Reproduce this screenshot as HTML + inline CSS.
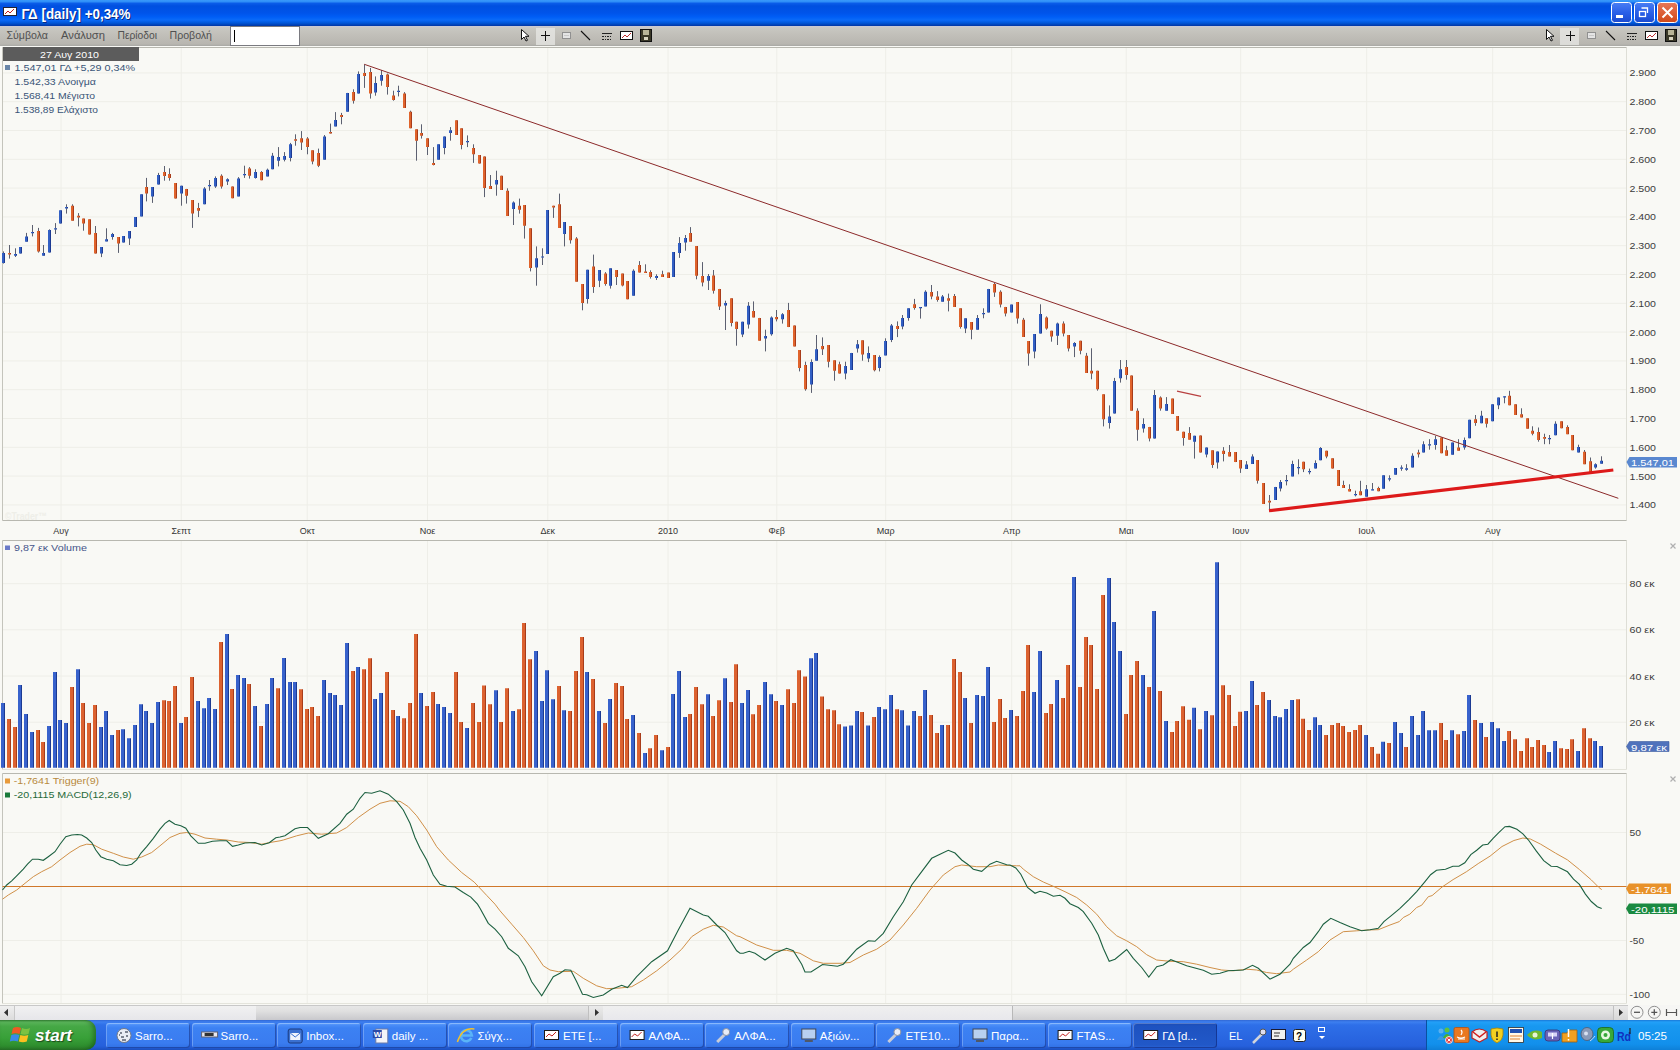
<!DOCTYPE html>
<html><head><meta charset="utf-8">
<style>
*{margin:0;padding:0;box-sizing:border-box}
html,body{width:1680px;height:1050px;overflow:hidden;background:#f9f9f5;font-family:"Liberation Sans",sans-serif}
.a{position:absolute}
svg{position:absolute;left:0;top:0}
#title{left:0;top:0;width:1680px;height:26px;background:linear-gradient(#3a9afa 0px,#3090f8 1.5px,#0a5ce8 3.5px,#0050e0 6px,#0054ea 13px,#005ef6 17px,#0a6af8 20px,#0056d8 23px,#0036a4 26px)}
#menu{left:0;top:26px;width:1680px;height:20px;background:linear-gradient(#cacad8 0px,#c8c8c2 2px,#c2c0ba 8px,#b8b6b0 18px,#a8a8a4 20px)}
.tb{left:0;top:1020px;width:1680px;height:30px;background:linear-gradient(#3168d5 0px,#3d7ff0 2px,#2e6fe8 5px,#2660dc 26px,#1c50c0 30px)}
.btn{position:absolute;top:3px;height:25px;width:84px;border-radius:3px;background:linear-gradient(#5a9cff 0px,#3c81f3 3px,#3478ee 20px,#2b68dc 25px);color:#fff;font-size:11px}
.btn span{position:absolute;left:24px;top:6px;white-space:nowrap}
.btn i{position:absolute;left:7px;top:6px;width:14px;height:12px}
</style></head><body>
<div id="title" class="a">
 <svg width="20" height="26" style="left:0;top:0"><rect x="3.5" y="7.5" width="13" height="8" fill="#fff" stroke="#223" stroke-width="1"/><polyline points="5,14 8,11 10,13 14,9" stroke="#c02020" stroke-width="1" fill="none"/></svg>
 <svg width="200" height="26" style="left:0;top:0"><text x="21.5" y="18.5" font-size="14" font-weight="bold" fill="#fff" textLength="109" lengthAdjust="spacingAndGlyphs" style="text-shadow:1px 1px #0a2a80">ΓΔ [daily] +0,34%</text></svg>
 <svg width="70" height="26" style="left:1610px;top:0">
  <defs><linearGradient id="wb" x1="0" y1="0" x2="0" y2="1"><stop offset="0" stop-color="#4a7ef4"/><stop offset="0.5" stop-color="#2a60e8"/><stop offset="1" stop-color="#1a4ad0"/></linearGradient>
  <linearGradient id="wc" x1="0" y1="0" x2="0" y2="1"><stop offset="0" stop-color="#e87858"/><stop offset="1" stop-color="#d04818"/></linearGradient></defs>
  <rect x="1.5" y="2.5" width="20" height="20" rx="3" fill="url(#wb)" stroke="#fff"/><rect x="6" y="15" width="7" height="3" fill="#fff"/>
  <rect x="24.5" y="2.5" width="20" height="20" rx="3" fill="url(#wb)" stroke="#fff"/><rect x="29.5" y="11.5" width="6" height="5" fill="none" stroke="#fff" stroke-width="1.3"/><path d="M31.5,8h6v5" fill="none" stroke="#fff" stroke-width="1.3"/>
  <rect x="47.5" y="2.5" width="20" height="20" rx="3" fill="url(#wc)" stroke="#fff"/><path d="M52.5,7.5l10,10M62.5,7.5l-10,10" stroke="#fff" stroke-width="2"/>
 </svg>
</div>
<div id="menu" class="a">
 <svg width="230" height="20" style="left:0;top:0" font-family="Liberation Sans">
  <text x="6.5" y="12.7" font-size="11" fill="#505050" textLength="41.5" lengthAdjust="spacingAndGlyphs">Σύμβολα</text>
  <text x="61" y="12.7" font-size="11" fill="#505050" textLength="44" lengthAdjust="spacingAndGlyphs">Ανάλυση</text>
  <text x="117.5" y="12.7" font-size="11" fill="#505050" textLength="39.5" lengthAdjust="spacingAndGlyphs">Περίοδοι</text>
  <text x="169.5" y="12.7" font-size="11" fill="#505050" textLength="42.5" lengthAdjust="spacingAndGlyphs">Προβολή</text>
 </svg>
 <div class="a" style="left:230px;top:0px;width:70px;height:20px;background:#fff;border:1px solid #7a7a80"><div class="a" style="left:3px;top:3px;width:1px;height:12px;background:#000"></div></div>
 <svg width="160" height="20" style="left:520px;top:0" shape-rendering="crispEdges">
 <rect x="16" y="2" width="19" height="17" fill="#e8e8e6" opacity="0.75"/>
 <path d="M1.5,3.5v10l2.5,-2.5l2,4l1.5,-0.7l-2,-4h3.5z" fill="#fff" stroke="#111" stroke-width="1" shape-rendering="auto"/>
 <path d="M25.5,4.5v10M21,9.5h9" stroke="#111" stroke-width="1.3"/>
 <rect x="42.5" y="6.5" width="8" height="6" fill="#e4e4e4" stroke="#909090"/><path d="M44,9.5h5" stroke="#c8c8c8"/>
 <path d="M61,5l9,9" stroke="#111" stroke-width="1.1" shape-rendering="auto"/>
 <path d="M82,7.5h10" stroke="#222" stroke-width="1"/><path d="M82,10.5h10M82,13.5h10" stroke="#222" stroke-width="1" stroke-dasharray="1.5,1"/>
 <rect x="100.5" y="5.5" width="12" height="8" fill="#fff" stroke="#111" stroke-width="1"/><polyline points="102,12 105,9 107,11 111,7" stroke="#c03030" fill="none" stroke-width="1" shape-rendering="auto"/>
 <rect x="120.5" y="3.5" width="11" height="12" fill="#3a3828" stroke="#111"/><rect x="123" y="4" width="6" height="5" fill="#b8b498"/><rect x="124" y="11" width="4" height="3" fill="#d8d4c0"/>
</svg>
 <svg width="160" height="20" style="left:1545px;top:0" shape-rendering="crispEdges">
 <rect x="15" y="2" width="19" height="17" fill="#e8e8e6" opacity="0.75"/>
 <path d="M1.5,3.5v10l2.5,-2.5l2,4l1.5,-0.7l-2,-4h3.5z" fill="#fff" stroke="#111" stroke-width="1" shape-rendering="auto"/>
 <path d="M25.5,4.5v10M21,9.5h9" stroke="#111" stroke-width="1.3"/>
 <rect x="42.5" y="6.5" width="8" height="6" fill="#e4e4e4" stroke="#909090"/><path d="M44,9.5h5" stroke="#c8c8c8"/>
 <path d="M61,5l9,9" stroke="#111" stroke-width="1.1" shape-rendering="auto"/>
 <path d="M82,7.5h10" stroke="#222" stroke-width="1"/><path d="M82,10.5h10M82,13.5h10" stroke="#222" stroke-width="1" stroke-dasharray="1.5,1"/>
 <rect x="100.5" y="5.5" width="12" height="8" fill="#fff" stroke="#111" stroke-width="1"/><polyline points="102,12 105,9 107,11 111,7" stroke="#c03030" fill="none" stroke-width="1" shape-rendering="auto"/>
 <rect x="120.5" y="3.5" width="11" height="12" fill="#3a3828" stroke="#111"/><rect x="123" y="4" width="6" height="5" fill="#b8b498"/><rect x="124" y="11" width="4" height="3" fill="#d8d4c0"/>
</svg>
</div>
<svg width="1680" height="1050" style="top:0;left:0;pointer-events:none">
<g transform="translate(0,0)">
<path d="M2.5,72.9H1626.5 M2.5,101.7H1626.5 M2.5,130.5H1626.5 M2.5,159.3H1626.5 M2.5,188.1H1626.5 M2.5,216.9H1626.5 M2.5,245.7H1626.5 M2.5,274.5H1626.5 M2.5,303.3H1626.5 M2.5,332.1H1626.5 M2.5,360.9H1626.5 M2.5,389.7H1626.5 M2.5,418.5H1626.5 M2.5,447.3H1626.5 M2.5,476.1H1626.5 M2.5,504.9H1626.5 M2.5,583.7H1626.5 M2.5,629.8H1626.5 M2.5,676.0H1626.5 M2.5,722.2H1626.5 M2.5,832.5H1626.5 M2.5,886.5H1626.5 M2.5,940.5H1626.5 M2.5,994.3H1626.5 M61.0,47.5V520.5 M61.0,540.5V769.5 M61.0,773.5V1003.5 M181.2,47.5V520.5 M181.2,540.5V769.5 M181.2,773.5V1003.5 M307.2,47.5V520.5 M307.2,540.5V769.5 M307.2,773.5V1003.5 M427.5,47.5V520.5 M427.5,540.5V769.5 M427.5,773.5V1003.5 M547.8,47.5V520.5 M547.8,540.5V769.5 M547.8,773.5V1003.5 M668.0,47.5V520.5 M668.0,540.5V769.5 M668.0,773.5V1003.5 M776.8,47.5V520.5 M776.8,540.5V769.5 M776.8,773.5V1003.5 M885.7,47.5V520.5 M885.7,540.5V769.5 M885.7,773.5V1003.5 M1011.7,47.5V520.5 M1011.7,540.5V769.5 M1011.7,773.5V1003.5 M1126.2,47.5V520.5 M1126.2,540.5V769.5 M1126.2,773.5V1003.5 M1240.7,47.5V520.5 M1240.7,540.5V769.5 M1240.7,773.5V1003.5 M1366.7,47.5V520.5 M1366.7,540.5V769.5 M1366.7,773.5V1003.5 M1492.7,47.5V520.5 M1492.7,540.5V769.5 M1492.7,773.5V1003.5" stroke="#eeeee8" stroke-width="1" fill="none"/>
<path d="M1626.5,47.5V520.5" stroke="#deded6" stroke-width="1" fill="none"/>
<path d="M2.5,520.5V47.5" stroke="#c4c4bc" stroke-width="1" fill="none"/>
<path d="M2.5,47.5H1626.5" stroke="#b8b8b0" stroke-width="1" fill="none"/>
<path d="M2.5,520.5H1626.5" stroke="#b8b8b0" stroke-width="1" fill="none"/>
<path d="M1626.5,540.5V769.5" stroke="#deded6" stroke-width="1" fill="none"/>
<path d="M2.5,769.5V540.5" stroke="#c4c4bc" stroke-width="1" fill="none"/>
<path d="M2.5,540.5H1626.5" stroke="#b8b8b0" stroke-width="1" fill="none"/>
<path d="M2.5,769.5H1626.5" stroke="#e4e4dc" stroke-width="1" fill="none"/>
<path d="M1626.5,773.5V1003.5" stroke="#deded6" stroke-width="1" fill="none"/>
<path d="M2.5,1003.5V773.5" stroke="#c4c4bc" stroke-width="1" fill="none"/>
<path d="M2.5,773.5H1626.5" stroke="#b8b8b0" stroke-width="1" fill="none"/>
<path d="M2.5,1003.5H1626.5" stroke="#e4e4dc" stroke-width="1" fill="none"/>
<path d="M3.5,251.4V263.6 M9.5,245.0V258.6 M15.5,248.3V257.0 M20.5,247.0V253.6 M26.5,232.9V241.7 M32.5,225.0V236.4 M38.5,227.9V252.6 M43.5,245.0V255.7 M49.5,229.3V252.6 M55.5,223.1V234.0 M60.5,210.3V223.6 M66.5,204.3V213.6 M72.5,204.3V220.7 M78.5,213.1V226.4 M83.5,218.6V230.7 M89.5,219.3V234.6 M95.5,226.0V253.6 M101.5,247.1V257.1 M106.5,228.3V241.4 M112.5,232.9V239.7 M118.5,237.1V252.9 M123.5,236.0V242.6 M129.5,231.1V245.0 M135.5,217.1V226.9 M141.5,194.3V216.4 M146.5,177.9V201.4 M152.5,187.1V202.9 M158.5,172.9V184.6 M164.5,166.0V180.7 M169.5,168.3V180.7 M175.5,183.1V198.6 M181.5,185.7V205.7 M186.5,188.9V203.6 M192.5,200.0V227.9 M198.5,202.9V217.1 M204.5,187.1V204.3 M209.5,180.0V190.7 M215.5,176.4V187.9 M221.5,174.3V188.6 M227.5,178.3V185.0 M232.5,186.4V198.3 M238.5,177.1V196.4 M244.5,165.7V177.9 M249.5,167.1V178.6 M255.5,169.3V178.6 M261.5,171.1V180.3 M267.5,168.6V176.4 M272.5,152.9V169.3 M278.5,147.1V166.4 M284.5,152.1V161.4 M290.5,142.9V161.4 M295.5,134.3V145.7 M301.5,131.1V150.0 M307.5,137.1V154.3 M312.5,150.3V164.3 M318.5,148.6V167.1 M324.5,135.0V159.7 M330.5,123.6V133.6 M335.5,112.1V126.4 M341.5,112.9V124.3 M347.5,92.9V111.7 M353.5,89.3V103.6 M358.5,71.4V93.6 M364.5,64.3V87.9 M370.5,67.9V98.6 M375.5,76.4V95.7 M381.5,70.0V85.7 M387.5,73.6V94.6 M393.5,90.7V100.7 M398.5,85.7V96.4 M404.5,92.1V107.9 M410.5,110.7V128.3 M416.5,129.3V160.7 M421.5,124.3V138.6 M427.5,138.3V155.0 M433.5,147.1V165.4 M438.5,144.3V159.7 M444.5,136.4V154.3 M450.5,127.1V140.7 M456.5,120.3V135.0 M461.5,128.3V149.3 M467.5,135.4V147.1 M473.5,144.3V162.9 M479.5,155.0V163.6 M484.5,156.4V197.1 M490.5,175.0V188.9 M496.5,170.7V195.7 M501.5,175.7V190.0 M507.5,188.3V216.0 M513.5,201.4V225.0 M519.5,198.6V213.6 M524.5,205.0V238.6 M530.5,228.3V271.4 M536.5,246.4V285.7 M542.5,248.3V265.0 M547.5,210.0V254.0 M553.5,205.7V217.9 M559.5,193.6V227.9 M564.5,222.1V246.4 M570.5,226.0V243.6 M576.5,237.1V281.7 M582.5,284.0V310.3 M587.5,269.7V303.6 M593.5,254.6V292.9 M599.5,270.0V287.1 M605.5,272.1V285.7 M610.5,268.3V288.6 M616.5,270.0V285.0 M622.5,273.6V286.4 M627.5,281.1V299.3 M633.5,269.3V295.7 M639.5,261.1V272.6 M645.5,264.3V272.9 M650.5,270.3V278.6 M656.5,274.3V280.0 M662.5,270.7V276.9 M668.5,272.6V277.9 M673.5,252.1V276.9 M679.5,237.1V257.9 M685.5,235.0V250.7 M690.5,227.1V241.7 M696.5,246.0V279.3 M702.5,262.1V286.4 M708.5,274.0V290.0 M713.5,270.0V293.6 M719.5,288.9V310.0 M725.5,300.7V330.0 M731.5,298.3V326.4 M736.5,321.7V345.7 M742.5,321.7V337.1 M748.5,302.1V328.6 M753.5,301.4V317.4 M759.5,317.9V340.7 M765.5,329.7V351.4 M771.5,316.4V335.7 M776.5,310.0V321.4 M782.5,313.1V323.6 M788.5,302.9V327.1 M794.5,325.4V346.4 M799.5,350.0V371.4 M805.5,361.7V390.7 M811.5,359.3V392.9 M816.5,335.0V360.7 M822.5,337.4V355.0 M828.5,345.0V367.4 M834.5,360.3V380.7 M839.5,361.7V373.6 M845.5,361.7V379.3 M851.5,352.9V370.0 M857.5,340.0V352.6 M862.5,340.3V360.7 M868.5,346.4V362.1 M874.5,355.0V371.4 M879.5,355.4V371.4 M885.5,338.3V355.4 M891.5,324.0V342.1 M897.5,321.4V337.1 M902.5,315.0V329.3 M908.5,308.3V320.7 M914.5,298.9V309.7 M920.5,307.1V318.6 M925.5,290.3V306.4 M931.5,285.0V299.3 M937.5,291.1V301.7 M942.5,295.0V301.7 M948.5,293.6V311.4 M954.5,294.0V306.9 M960.5,308.3V328.6 M965.5,318.3V333.1 M971.5,322.1V339.3 M977.5,315.0V329.7 M983.5,308.3V318.3 M988.5,288.9V312.6 M994.5,282.9V296.9 M1000.5,290.3V307.4 M1005.5,306.9V316.4 M1011.5,304.6V312.6 M1017.5,302.1V323.6 M1023.5,317.9V336.9 M1028.5,341.1V365.7 M1034.5,334.0V358.3 M1040.5,304.3V333.6 M1046.5,316.4V329.7 M1051.5,330.7V341.7 M1057.5,322.6V345.0 M1063.5,321.4V336.4 M1068.5,335.0V351.4 M1074.5,342.1V357.1 M1080.5,340.7V354.3 M1086.5,352.9V372.9 M1091.5,348.3V379.3 M1097.5,370.7V390.7 M1103.5,394.3V426.4 M1109.5,405.4V428.6 M1114.5,377.9V413.6 M1120.5,360.0V382.6 M1126.5,360.0V379.7 M1131.5,375.4V410.7 M1137.5,408.3V440.7 M1143.5,418.3V432.6 M1149.5,426.9V441.4 M1154.5,390.0V438.6 M1160.5,396.4V410.7 M1166.5,397.1V410.7 M1172.5,398.6V414.0 M1177.5,416.0V430.7 M1183.5,431.7V445.7 M1189.5,427.1V439.7 M1194.5,435.7V458.6 M1200.5,435.4V452.6 M1206.5,447.4V457.4 M1212.5,450.3V467.9 M1217.5,451.4V468.6 M1223.5,447.1V461.4 M1229.5,445.0V456.4 M1235.5,452.1V462.1 M1240.5,460.0V472.9 M1246.5,461.1V468.9 M1252.5,454.3V464.0 M1257.5,460.0V483.6 M1263.5,483.1V504.0 M1269.5,495.0V510.7 M1275.5,486.9V500.0 M1280.5,480.0V491.4 M1286.5,475.0V485.4 M1292.5,460.7V476.4 M1298.5,459.3V474.3 M1303.5,461.7V472.1 M1309.5,468.6V474.3 M1315.5,460.3V468.6 M1320.5,447.1V460.3 M1326.5,450.7V458.3 M1332.5,458.3V468.6 M1338.5,470.0V486.0 M1343.5,480.7V487.9 M1349.5,484.3V491.4 M1355.5,490.7V496.4 M1360.5,480.8V495.3 M1366.5,485.0V496.7 M1372.5,483.0V490.3 M1378.5,486.7V491.3 M1383.5,475.3V488.7 M1389.5,475.3V481.3 M1395.5,468.0V474.7 M1401.5,465.3V470.8 M1406.5,464.2V470.8 M1412.5,453.3V467.5 M1418.5,449.7V457.5 M1423.5,441.3V452.5 M1429.5,439.2V449.7 M1435.5,435.8V449.7 M1441.5,437.5V453.3 M1446.5,445.8V455.8 M1452.5,442.5V454.7 M1458.5,439.2V450.8 M1464.5,437.5V449.7 M1469.5,419.7V438.3 M1475.5,415.0V425.8 M1481.5,410.8V423.3 M1486.5,418.3V427.5 M1492.5,404.2V421.3 M1498.5,397.5V409.2 M1504.5,396.3V403.3 M1509.5,390.8V405.3 M1515.5,404.2V415.0 M1521.5,408.3V417.5 M1527.5,418.3V428.7 M1532.5,426.3V435.3 M1538.5,427.5V441.7 M1544.5,433.7V444.2 M1549.5,435.0V444.2 M1555.5,421.3V435.3 M1561.5,421.3V428.3 M1567.5,425.3V434.2 M1572.5,435.0V450.3 M1578.5,444.7V452.5 M1584.5,450.0V464.2 M1590.5,457.5V472.5 M1595.5,463.3V468.7 M1601.5,456.3V463.7" stroke="#5c6070" stroke-width="1" fill="none"/>
<path d="M2,252.9h2v10.0h-2z M14,254.0h2v1.7h-2z M19,247.0h2v6.6h-2z M25,236.4h2v5.3h-2z M31,232.1h2v1.2h-2z M42,252.9h2v2.8h-2z M48,230.0h2v22.6h-2z M54,228.3h2v1.2h-2z M59,210.3h2v13.3h-2z M65,206.9h2v1.7h-2z M100,247.1h2v6.5h-2z M105,239.3h2v2.1h-2z M111,234.0h2v2.9h-2z M122,236.0h2v6.6h-2z M128,231.1h2v7.5h-2z M134,217.1h2v9.8h-2z M140,194.3h2v22.1h-2z M151,187.1h2v9.3h-2z M157,175.0h2v9.6h-2z M180,185.7h2v7.9h-2z M203,188.6h2v15.7h-2z M208,185.0h2v1.2h-2z M214,177.9h2v8.5h-2z M226,179.3h2v2.1h-2z M237,178.6h2v17.8h-2z M243,174.0h2v1.2h-2z M254,172.1h2v5.8h-2z M266,169.7h2v6.7h-2z M271,155.7h2v13.6h-2z M277,156.9h2v3.8h-2z M283,156.0h2v3.7h-2z M289,144.3h2v13.6h-2z M323,136.4h2v23.3h-2z M334,120.0h2v6.4h-2z M346,92.9h2v18.8h-2z M357,74.0h2v19.6h-2z M374,83.1h2v9.5h-2z M380,75.0h2v5.7h-2z M397,90.7h2v1.2h-2z M437,144.3h2v15.4h-2z M443,136.4h2v11.5h-2z M449,130.3h2v2.6h-2z M466,141.1h2v1.2h-2z M495,180.0h2v4.6h-2z M512,202.6h2v6.3h-2z M535,258.3h2v9.1h-2z M541,256.4h2v1.2h-2z M546,210.0h2v44.0h-2z M563,222.1h2v11.9h-2z M586,269.7h2v29.2h-2z M598,270.0h2v10.7h-2z M609,268.3h2v17.4h-2z M632,270.7h2v25.0h-2z M655,276.0h2v1.9h-2z M672,252.1h2v24.8h-2z M678,242.9h2v10.0h-2z M684,237.9h2v4.7h-2z M707,276.0h2v4.7h-2z M724,302.9h2v2.5h-2z M741,321.7h2v12.9h-2z M747,305.7h2v18.9h-2z M764,336.0h2v2.6h-2z M770,317.4h2v16.9h-2z M781,314.3h2v5.0h-2z M810,362.1h2v22.5h-2z M815,349.3h2v11.4h-2z M844,366.0h2v7.6h-2z M850,352.9h2v17.1h-2z M856,344.3h2v4.3h-2z M867,353.1h2v5.5h-2z M878,356.9h2v11.0h-2z M884,341.1h2v14.3h-2z M890,325.4h2v14.6h-2z M901,317.9h2v8.5h-2z M907,308.3h2v9.6h-2z M919,307.1h2v1.2h-2z M924,291.7h2v14.7h-2z M941,296.4h2v5.3h-2z M964,318.3h2v10.3h-2z M976,317.9h2v11.8h-2z M982,313.1h2v1.2h-2z M987,288.9h2v23.7h-2z M1010,304.6h2v8.0h-2z M1033,334.0h2v17.4h-2z M1039,314.0h2v19.6h-2z M1056,323.6h2v12.1h-2z M1073,342.9h2v3.5h-2z M1108,416.4h2v6.5h-2z M1113,381.1h2v32.5h-2z M1119,369.3h2v9.0h-2z M1142,424.0h2v4.6h-2z M1153,395.0h2v43.6h-2z M1165,404.0h2v6.7h-2z M1193,435.7h2v6.0h-2z M1205,447.4h2v7.2h-2z M1216,451.4h2v11.2h-2z M1245,464.6h2v4.3h-2z M1251,456.4h2v7.6h-2z M1274,486.9h2v13.1h-2z M1279,482.1h2v6.5h-2z M1285,480.0h2v1.2h-2z M1291,464.0h2v12.4h-2z M1297,467.1h2v1.2h-2z M1308,471.1h2v1.2h-2z M1314,463.1h2v5.5h-2z M1319,447.9h2v12.4h-2z M1354,494.0h2v1.2h-2z M1365,489.2h2v7.5h-2z M1371,489.2h2v1.2h-2z M1382,475.3h2v13.4h-2z M1388,478.3h2v1.2h-2z M1394,468.0h2v6.7h-2z M1400,467.5h2v1.2h-2z M1405,468.3h2v1.4h-2z M1411,455.8h2v11.7h-2z M1422,444.2h2v8.3h-2z M1428,444.2h2v1.2h-2z M1434,439.2h2v5.8h-2z M1451,442.5h2v12.2h-2z M1463,440.0h2v7.5h-2z M1468,419.7h2v18.6h-2z M1480,415.8h2v7.5h-2z M1491,404.2h2v17.1h-2z M1497,397.5h2v7.8h-2z M1503,396.3h2v1.2h-2z M1548,438.0h2v1.2h-2z M1554,423.7h2v11.6h-2z M1577,447.0h2v5.5h-2z M1594,464.2h2v3.3h-2z M1600,460.8h2v2.9h-2z" fill="#3360c4"/>
<path d="M4,252.9h1v10.0h-1z M16,254.0h1v1.7h-1z M21,247.0h1v6.6h-1z M27,236.4h1v5.3h-1z M33,232.1h1v1.2h-1z M44,252.9h1v2.8h-1z M50,230.0h1v22.6h-1z M56,228.3h1v1.2h-1z M61,210.3h1v13.3h-1z M67,206.9h1v1.7h-1z M102,247.1h1v6.5h-1z M107,239.3h1v2.1h-1z M113,234.0h1v2.9h-1z M124,236.0h1v6.6h-1z M130,231.1h1v7.5h-1z M136,217.1h1v9.8h-1z M142,194.3h1v22.1h-1z M153,187.1h1v9.3h-1z M159,175.0h1v9.6h-1z M182,185.7h1v7.9h-1z M205,188.6h1v15.7h-1z M210,185.0h1v1.2h-1z M216,177.9h1v8.5h-1z M228,179.3h1v2.1h-1z M239,178.6h1v17.8h-1z M245,174.0h1v1.2h-1z M256,172.1h1v5.8h-1z M268,169.7h1v6.7h-1z M273,155.7h1v13.6h-1z M279,156.9h1v3.8h-1z M285,156.0h1v3.7h-1z M291,144.3h1v13.6h-1z M325,136.4h1v23.3h-1z M336,120.0h1v6.4h-1z M348,92.9h1v18.8h-1z M359,74.0h1v19.6h-1z M376,83.1h1v9.5h-1z M382,75.0h1v5.7h-1z M399,90.7h1v1.2h-1z M439,144.3h1v15.4h-1z M445,136.4h1v11.5h-1z M451,130.3h1v2.6h-1z M468,141.1h1v1.2h-1z M497,180.0h1v4.6h-1z M514,202.6h1v6.3h-1z M537,258.3h1v9.1h-1z M543,256.4h1v1.2h-1z M548,210.0h1v44.0h-1z M565,222.1h1v11.9h-1z M588,269.7h1v29.2h-1z M600,270.0h1v10.7h-1z M611,268.3h1v17.4h-1z M634,270.7h1v25.0h-1z M657,276.0h1v1.9h-1z M674,252.1h1v24.8h-1z M680,242.9h1v10.0h-1z M686,237.9h1v4.7h-1z M709,276.0h1v4.7h-1z M726,302.9h1v2.5h-1z M743,321.7h1v12.9h-1z M749,305.7h1v18.9h-1z M766,336.0h1v2.6h-1z M772,317.4h1v16.9h-1z M783,314.3h1v5.0h-1z M812,362.1h1v22.5h-1z M817,349.3h1v11.4h-1z M846,366.0h1v7.6h-1z M852,352.9h1v17.1h-1z M858,344.3h1v4.3h-1z M869,353.1h1v5.5h-1z M880,356.9h1v11.0h-1z M886,341.1h1v14.3h-1z M892,325.4h1v14.6h-1z M903,317.9h1v8.5h-1z M909,308.3h1v9.6h-1z M921,307.1h1v1.2h-1z M926,291.7h1v14.7h-1z M943,296.4h1v5.3h-1z M966,318.3h1v10.3h-1z M978,317.9h1v11.8h-1z M984,313.1h1v1.2h-1z M989,288.9h1v23.7h-1z M1012,304.6h1v8.0h-1z M1035,334.0h1v17.4h-1z M1041,314.0h1v19.6h-1z M1058,323.6h1v12.1h-1z M1075,342.9h1v3.5h-1z M1110,416.4h1v6.5h-1z M1115,381.1h1v32.5h-1z M1121,369.3h1v9.0h-1z M1144,424.0h1v4.6h-1z M1155,395.0h1v43.6h-1z M1167,404.0h1v6.7h-1z M1195,435.7h1v6.0h-1z M1207,447.4h1v7.2h-1z M1218,451.4h1v11.2h-1z M1247,464.6h1v4.3h-1z M1253,456.4h1v7.6h-1z M1276,486.9h1v13.1h-1z M1281,482.1h1v6.5h-1z M1287,480.0h1v1.2h-1z M1293,464.0h1v12.4h-1z M1299,467.1h1v1.2h-1z M1310,471.1h1v1.2h-1z M1316,463.1h1v5.5h-1z M1321,447.9h1v12.4h-1z M1356,494.0h1v1.2h-1z M1367,489.2h1v7.5h-1z M1373,489.2h1v1.2h-1z M1384,475.3h1v13.4h-1z M1390,478.3h1v1.2h-1z M1396,468.0h1v6.7h-1z M1402,467.5h1v1.2h-1z M1407,468.3h1v1.4h-1z M1413,455.8h1v11.7h-1z M1424,444.2h1v8.3h-1z M1430,444.2h1v1.2h-1z M1436,439.2h1v5.8h-1z M1453,442.5h1v12.2h-1z M1465,440.0h1v7.5h-1z M1470,419.7h1v18.6h-1z M1482,415.8h1v7.5h-1z M1493,404.2h1v17.1h-1z M1499,397.5h1v7.8h-1z M1505,396.3h1v1.2h-1z M1550,438.0h1v1.2h-1z M1556,423.7h1v11.6h-1z M1579,447.0h1v5.5h-1z M1596,464.2h1v3.3h-1z M1602,460.8h1v2.9h-1z" fill="#1c3a92"/>
<path d="M8,252.9h2v1.7h-2z M37,231.1h2v20.3h-2z M71,205.7h2v15.0h-2z M77,215.7h2v1.7h-2z M82,218.6h2v5.0h-2z M88,219.3h2v15.3h-2z M94,232.9h2v20.7h-2z M117,237.1h2v6.5h-2z M145,187.1h2v6.5h-2z M163,172.1h2v3.9h-2z M168,174.0h2v3.9h-2z M174,183.1h2v15.5h-2z M185,188.9h2v6.8h-2z M191,200.0h2v13.6h-2z M197,207.9h2v2.8h-2z M220,175.7h2v10.7h-2z M231,186.4h2v11.9h-2z M248,168.6h2v7.1h-2z M260,172.1h2v8.2h-2z M294,139.3h2v1.4h-2z M300,138.3h2v4.3h-2z M306,138.6h2v8.5h-2z M311,150.3h2v11.1h-2z M317,152.9h2v12.8h-2z M329,132.1h2v1.5h-2z M340,115.0h2v1.9h-2z M352,92.1h2v8.6h-2z M363,73.1h2v2.9h-2z M369,72.1h2v21.5h-2z M386,74.6h2v12.3h-2z M392,95.4h2v4.6h-2z M403,93.6h2v14.3h-2z M409,111.7h2v16.6h-2z M415,129.3h2v11.4h-2z M420,132.9h2v2.8h-2z M426,138.3h2v8.8h-2z M432,162.9h2v2.1h-2z M455,120.3h2v14.7h-2z M460,128.3h2v16.7h-2z M472,147.9h2v6.4h-2z M478,155.0h2v8.6h-2z M483,156.4h2v31.5h-2z M489,186.0h2v2.9h-2z M500,175.7h2v14.3h-2z M506,190.7h2v25.3h-2z M518,205.7h2v4.0h-2z M523,205.0h2v20.7h-2z M529,228.3h2v39.6h-2z M552,205.7h2v1.7h-2z M558,204.3h2v23.6h-2z M569,226.0h2v14.3h-2z M575,238.6h2v43.1h-2z M581,284.0h2v18.9h-2z M592,266.4h2v20.5h-2z M604,273.6h2v10.4h-2z M615,270.0h2v6.9h-2z M621,273.6h2v11.8h-2z M626,281.1h2v18.2h-2z M638,265.0h2v7.6h-2z M644,271.4h2v1.5h-2z M649,272.1h2v5.0h-2z M661,274.3h2v2.6h-2z M667,272.6h2v5.3h-2z M689,233.1h2v8.6h-2z M695,246.0h2v29.7h-2z M701,276.0h2v6.6h-2z M712,275.4h2v15.3h-2z M718,288.9h2v17.5h-2z M730,298.3h2v24.8h-2z M735,321.7h2v7.2h-2z M752,311.1h2v6.3h-2z M758,317.9h2v22.8h-2z M775,317.1h2v2.2h-2z M787,310.0h2v17.1h-2z M793,325.4h2v21.0h-2z M798,350.0h2v17.9h-2z M804,365.0h2v24.3h-2z M821,346.0h2v3.3h-2z M827,345.0h2v16.7h-2z M833,360.3h2v10.4h-2z M838,364.3h2v9.3h-2z M861,340.3h2v14.3h-2z M873,355.0h2v15.3h-2z M896,326.0h2v2.9h-2z M913,304.3h2v3.6h-2z M930,292.1h2v4.3h-2z M936,296.4h2v3.6h-2z M947,298.3h2v2.4h-2z M953,296.0h2v10.9h-2z M959,308.3h2v18.6h-2z M970,322.1h2v7.6h-2z M993,284.0h2v8.6h-2z M999,291.7h2v12.9h-2z M1004,306.9h2v6.7h-2z M1016,302.1h2v16.5h-2z M1022,319.7h2v17.2h-2z M1027,341.1h2v12.5h-2z M1045,317.4h2v11.2h-2z M1050,330.7h2v5.7h-2z M1062,323.6h2v10.0h-2z M1067,335.0h2v13.6h-2z M1079,340.7h2v10.0h-2z M1085,355.7h2v17.2h-2z M1090,370.7h2v2.9h-2z M1096,370.7h2v18.6h-2z M1102,394.3h2v25.0h-2z M1125,366.9h2v8.1h-2z M1130,375.4h2v35.3h-2z M1136,410.7h2v19.0h-2z M1148,426.9h2v11.7h-2z M1159,397.4h2v11.2h-2z M1171,398.6h2v15.4h-2z M1176,416.0h2v14.7h-2z M1182,431.7h2v6.2h-2z M1188,432.9h2v6.8h-2z M1199,435.4h2v17.2h-2z M1211,450.3h2v14.7h-2z M1222,450.7h2v3.3h-2z M1228,452.1h2v4.3h-2z M1234,452.1h2v10.0h-2z M1239,460.0h2v8.6h-2z M1256,460.0h2v20.7h-2z M1262,483.1h2v20.9h-2z M1268,500.7h2v1.9h-2z M1302,461.7h2v7.6h-2z M1325,450.7h2v5.7h-2z M1331,458.3h2v10.3h-2z M1337,470.0h2v16.0h-2z M1342,485.0h2v2.9h-2z M1348,488.9h2v2.5h-2z M1359,491.3h2v4.0h-2z M1377,488.0h2v3.3h-2z M1417,452.5h2v1.7h-2z M1440,437.5h2v15.8h-2z M1445,450.3h2v5.5h-2z M1457,447.5h2v3.3h-2z M1474,419.2h2v3.8h-2z M1485,418.3h2v5.4h-2z M1508,395.8h2v9.5h-2z M1514,404.2h2v10.8h-2z M1520,414.2h2v3.3h-2z M1526,418.3h2v10.4h-2z M1531,430.8h2v2.9h-2z M1537,432.0h2v8.0h-2z M1543,437.0h2v1.7h-2z M1560,421.3h2v7.0h-2z M1566,427.0h2v7.2h-2z M1571,435.0h2v15.3h-2z M1583,451.7h2v12.5h-2z M1589,461.3h2v11.2h-2z" fill="#e0642c"/>
<path d="M10,252.9h1v1.7h-1z M39,231.1h1v20.3h-1z M73,205.7h1v15.0h-1z M79,215.7h1v1.7h-1z M84,218.6h1v5.0h-1z M90,219.3h1v15.3h-1z M96,232.9h1v20.7h-1z M119,237.1h1v6.5h-1z M147,187.1h1v6.5h-1z M165,172.1h1v3.9h-1z M170,174.0h1v3.9h-1z M176,183.1h1v15.5h-1z M187,188.9h1v6.8h-1z M193,200.0h1v13.6h-1z M199,207.9h1v2.8h-1z M222,175.7h1v10.7h-1z M233,186.4h1v11.9h-1z M250,168.6h1v7.1h-1z M262,172.1h1v8.2h-1z M296,139.3h1v1.4h-1z M302,138.3h1v4.3h-1z M308,138.6h1v8.5h-1z M313,150.3h1v11.1h-1z M319,152.9h1v12.8h-1z M331,132.1h1v1.5h-1z M342,115.0h1v1.9h-1z M354,92.1h1v8.6h-1z M365,73.1h1v2.9h-1z M371,72.1h1v21.5h-1z M388,74.6h1v12.3h-1z M394,95.4h1v4.6h-1z M405,93.6h1v14.3h-1z M411,111.7h1v16.6h-1z M417,129.3h1v11.4h-1z M422,132.9h1v2.8h-1z M428,138.3h1v8.8h-1z M434,162.9h1v2.1h-1z M457,120.3h1v14.7h-1z M462,128.3h1v16.7h-1z M474,147.9h1v6.4h-1z M480,155.0h1v8.6h-1z M485,156.4h1v31.5h-1z M491,186.0h1v2.9h-1z M502,175.7h1v14.3h-1z M508,190.7h1v25.3h-1z M520,205.7h1v4.0h-1z M525,205.0h1v20.7h-1z M531,228.3h1v39.6h-1z M554,205.7h1v1.7h-1z M560,204.3h1v23.6h-1z M571,226.0h1v14.3h-1z M577,238.6h1v43.1h-1z M583,284.0h1v18.9h-1z M594,266.4h1v20.5h-1z M606,273.6h1v10.4h-1z M617,270.0h1v6.9h-1z M623,273.6h1v11.8h-1z M628,281.1h1v18.2h-1z M640,265.0h1v7.6h-1z M646,271.4h1v1.5h-1z M651,272.1h1v5.0h-1z M663,274.3h1v2.6h-1z M669,272.6h1v5.3h-1z M691,233.1h1v8.6h-1z M697,246.0h1v29.7h-1z M703,276.0h1v6.6h-1z M714,275.4h1v15.3h-1z M720,288.9h1v17.5h-1z M732,298.3h1v24.8h-1z M737,321.7h1v7.2h-1z M754,311.1h1v6.3h-1z M760,317.9h1v22.8h-1z M777,317.1h1v2.2h-1z M789,310.0h1v17.1h-1z M795,325.4h1v21.0h-1z M800,350.0h1v17.9h-1z M806,365.0h1v24.3h-1z M823,346.0h1v3.3h-1z M829,345.0h1v16.7h-1z M835,360.3h1v10.4h-1z M840,364.3h1v9.3h-1z M863,340.3h1v14.3h-1z M875,355.0h1v15.3h-1z M898,326.0h1v2.9h-1z M915,304.3h1v3.6h-1z M932,292.1h1v4.3h-1z M938,296.4h1v3.6h-1z M949,298.3h1v2.4h-1z M955,296.0h1v10.9h-1z M961,308.3h1v18.6h-1z M972,322.1h1v7.6h-1z M995,284.0h1v8.6h-1z M1001,291.7h1v12.9h-1z M1006,306.9h1v6.7h-1z M1018,302.1h1v16.5h-1z M1024,319.7h1v17.2h-1z M1029,341.1h1v12.5h-1z M1047,317.4h1v11.2h-1z M1052,330.7h1v5.7h-1z M1064,323.6h1v10.0h-1z M1069,335.0h1v13.6h-1z M1081,340.7h1v10.0h-1z M1087,355.7h1v17.2h-1z M1092,370.7h1v2.9h-1z M1098,370.7h1v18.6h-1z M1104,394.3h1v25.0h-1z M1127,366.9h1v8.1h-1z M1132,375.4h1v35.3h-1z M1138,410.7h1v19.0h-1z M1150,426.9h1v11.7h-1z M1161,397.4h1v11.2h-1z M1173,398.6h1v15.4h-1z M1178,416.0h1v14.7h-1z M1184,431.7h1v6.2h-1z M1190,432.9h1v6.8h-1z M1201,435.4h1v17.2h-1z M1213,450.3h1v14.7h-1z M1224,450.7h1v3.3h-1z M1230,452.1h1v4.3h-1z M1236,452.1h1v10.0h-1z M1241,460.0h1v8.6h-1z M1258,460.0h1v20.7h-1z M1264,483.1h1v20.9h-1z M1270,500.7h1v1.9h-1z M1304,461.7h1v7.6h-1z M1327,450.7h1v5.7h-1z M1333,458.3h1v10.3h-1z M1339,470.0h1v16.0h-1z M1344,485.0h1v2.9h-1z M1350,488.9h1v2.5h-1z M1361,491.3h1v4.0h-1z M1379,488.0h1v3.3h-1z M1419,452.5h1v1.7h-1z M1442,437.5h1v15.8h-1z M1447,450.3h1v5.5h-1z M1459,447.5h1v3.3h-1z M1476,419.2h1v3.8h-1z M1487,418.3h1v5.4h-1z M1510,395.8h1v9.5h-1z M1516,404.2h1v10.8h-1z M1522,414.2h1v3.3h-1z M1528,418.3h1v10.4h-1z M1533,430.8h1v2.9h-1z M1539,432.0h1v8.0h-1z M1545,437.0h1v1.7h-1z M1562,421.3h1v7.0h-1z M1568,427.0h1v7.2h-1z M1573,435.0h1v15.3h-1z M1585,451.7h1v12.5h-1z M1591,461.3h1v11.2h-1z" fill="#a83c1a"/>
<path d="M1,703.1h3V767.8h-3z M18,685.0h3V767.8h-3z M24,714.0h3V767.8h-3z M30,732.1h3V767.8h-3z M47,726.0h3V767.8h-3z M53,672.1h3V767.8h-3z M58,720.0h3V767.8h-3z M64,722.9h3V767.8h-3z M76,669.3h3V767.8h-3z M99,726.9h3V767.8h-3z M104,711.1h3V767.8h-3z M110,735.0h3V767.8h-3z M121,729.3h3V767.8h-3z M127,738.3h3V767.8h-3z M133,725.0h3V767.8h-3z M139,704.3h3V767.8h-3z M144,711.1h3V767.8h-3z M150,722.9h3V767.8h-3z M156,702.1h3V767.8h-3z M179,722.9h3V767.8h-3z M196,701.1h3V767.8h-3z M202,708.3h3V767.8h-3z M207,697.9h3V767.8h-3z M213,708.9h3V767.8h-3z M225,634.0h3V767.8h-3z M236,675.0h3V767.8h-3z M242,677.9h3V767.8h-3z M253,706.0h3V767.8h-3z M265,704.0h3V767.8h-3z M270,677.9h3V767.8h-3z M282,657.9h3V767.8h-3z M288,682.1h3V767.8h-3z M293,682.1h3V767.8h-3z M322,680.0h3V767.8h-3z M328,693.1h3V767.8h-3z M333,695.0h3V767.8h-3z M339,705.0h3V767.8h-3z M345,642.9h3V767.8h-3z M356,667.1h3V767.8h-3z M373,698.9h3V767.8h-3z M379,693.1h3V767.8h-3z M396,716.0h3V767.8h-3z M419,693.1h3V767.8h-3z M436,704.0h3V767.8h-3z M442,706.9h3V767.8h-3z M448,713.1h3V767.8h-3z M465,727.9h3V767.8h-3z M494,690.3h3V767.8h-3z M511,711.1h3V767.8h-3z M534,651.1h3V767.8h-3z M540,701.1h3V767.8h-3z M545,670.3h3V767.8h-3z M551,699.3h3V767.8h-3z M562,710.3h3V767.8h-3z M585,672.1h3V767.8h-3z M597,711.1h3V767.8h-3z M608,698.9h3V767.8h-3z M631,715.0h3V767.8h-3z M643,753.1h3V767.8h-3z M660,750.3h3V767.8h-3z M671,694.0h3V767.8h-3z M677,671.1h3V767.8h-3z M683,717.1h3V767.8h-3z M706,694.3h3V767.8h-3z M723,678.3h3V767.8h-3z M740,703.1h3V767.8h-3z M746,690.0h3V767.8h-3z M763,682.1h3V767.8h-3z M769,694.3h3V767.8h-3z M780,705.0h3V767.8h-3z M809,658.3h3V767.8h-3z M814,653.1h3V767.8h-3z M843,726.4h3V767.8h-3z M849,725.4h3V767.8h-3z M855,711.1h3V767.8h-3z M866,725.4h3V767.8h-3z M877,707.1h3V767.8h-3z M883,709.3h3V767.8h-3z M889,695.0h3V767.8h-3z M900,710.3h3V767.8h-3z M906,725.4h3V767.8h-3z M912,711.1h3V767.8h-3z M923,690.0h3V767.8h-3z M940,725.0h3V767.8h-3z M963,698.0h3V767.8h-3z M975,695.0h3V767.8h-3z M981,696.0h3V767.8h-3z M986,667.0h3V767.8h-3z M1009,710.0h3V767.8h-3z M1032,692.0h3V767.8h-3z M1038,651.0h3V767.8h-3z M1055,680.0h3V767.8h-3z M1072,577.0h3V767.8h-3z M1107,578.0h3V767.8h-3z M1112,622.0h3V767.8h-3z M1118,651.0h3V767.8h-3z M1141,675.0h3V767.8h-3z M1152,611.0h3V767.8h-3z M1164,720.9h3V767.8h-3z M1192,707.7h3V767.8h-3z M1204,711.0h3V767.8h-3z M1215,562.2h3V767.8h-3z M1244,711.0h3V767.8h-3z M1250,681.0h3V767.8h-3z M1267,699.9h3V767.8h-3z M1273,716.0h3V767.8h-3z M1278,717.3h3V767.8h-3z M1284,708.9h3V767.8h-3z M1290,699.9h3V767.8h-3z M1313,717.3h3V767.8h-3z M1318,725.0h3V767.8h-3z M1364,734.9h3V767.8h-3z M1381,741.8h3V767.8h-3z M1393,722.1h3V767.8h-3z M1399,733.1h3V767.8h-3z M1410,716.0h3V767.8h-3z M1416,735.0h3V767.8h-3z M1421,711.1h3V767.8h-3z M1427,730.3h3V767.8h-3z M1433,730.3h3V767.8h-3z M1450,730.3h3V767.8h-3z M1462,731.1h3V767.8h-3z M1467,695.0h3V767.8h-3z M1479,723.1h3V767.8h-3z M1490,722.1h3V767.8h-3z M1496,728.3h3V767.8h-3z M1502,741.1h3V767.8h-3z M1547,752.1h3V767.8h-3z M1553,741.1h3V767.8h-3z M1576,751.1h3V767.8h-3z M1593,741.1h3V767.8h-3z M1599,746.0h3V767.8h-3z" fill="#3862cc"/>
<path d="M4,703.1h1V767.8h-1z M21,685.0h1V767.8h-1z M27,714.0h1V767.8h-1z M33,732.1h1V767.8h-1z M50,726.0h1V767.8h-1z M56,672.1h1V767.8h-1z M61,720.0h1V767.8h-1z M67,722.9h1V767.8h-1z M79,669.3h1V767.8h-1z M102,726.9h1V767.8h-1z M107,711.1h1V767.8h-1z M113,735.0h1V767.8h-1z M124,729.3h1V767.8h-1z M130,738.3h1V767.8h-1z M136,725.0h1V767.8h-1z M142,704.3h1V767.8h-1z M147,711.1h1V767.8h-1z M153,722.9h1V767.8h-1z M159,702.1h1V767.8h-1z M182,722.9h1V767.8h-1z M199,701.1h1V767.8h-1z M205,708.3h1V767.8h-1z M210,697.9h1V767.8h-1z M216,708.9h1V767.8h-1z M228,634.0h1V767.8h-1z M239,675.0h1V767.8h-1z M245,677.9h1V767.8h-1z M256,706.0h1V767.8h-1z M268,704.0h1V767.8h-1z M273,677.9h1V767.8h-1z M285,657.9h1V767.8h-1z M291,682.1h1V767.8h-1z M296,682.1h1V767.8h-1z M325,680.0h1V767.8h-1z M331,693.1h1V767.8h-1z M336,695.0h1V767.8h-1z M342,705.0h1V767.8h-1z M348,642.9h1V767.8h-1z M359,667.1h1V767.8h-1z M376,698.9h1V767.8h-1z M382,693.1h1V767.8h-1z M399,716.0h1V767.8h-1z M422,693.1h1V767.8h-1z M439,704.0h1V767.8h-1z M445,706.9h1V767.8h-1z M451,713.1h1V767.8h-1z M468,727.9h1V767.8h-1z M497,690.3h1V767.8h-1z M514,711.1h1V767.8h-1z M537,651.1h1V767.8h-1z M543,701.1h1V767.8h-1z M548,670.3h1V767.8h-1z M554,699.3h1V767.8h-1z M565,710.3h1V767.8h-1z M588,672.1h1V767.8h-1z M600,711.1h1V767.8h-1z M611,698.9h1V767.8h-1z M634,715.0h1V767.8h-1z M646,753.1h1V767.8h-1z M663,750.3h1V767.8h-1z M674,694.0h1V767.8h-1z M680,671.1h1V767.8h-1z M686,717.1h1V767.8h-1z M709,694.3h1V767.8h-1z M726,678.3h1V767.8h-1z M743,703.1h1V767.8h-1z M749,690.0h1V767.8h-1z M766,682.1h1V767.8h-1z M772,694.3h1V767.8h-1z M783,705.0h1V767.8h-1z M812,658.3h1V767.8h-1z M817,653.1h1V767.8h-1z M846,726.4h1V767.8h-1z M852,725.4h1V767.8h-1z M858,711.1h1V767.8h-1z M869,725.4h1V767.8h-1z M880,707.1h1V767.8h-1z M886,709.3h1V767.8h-1z M892,695.0h1V767.8h-1z M903,710.3h1V767.8h-1z M909,725.4h1V767.8h-1z M915,711.1h1V767.8h-1z M926,690.0h1V767.8h-1z M943,725.0h1V767.8h-1z M966,698.0h1V767.8h-1z M978,695.0h1V767.8h-1z M984,696.0h1V767.8h-1z M989,667.0h1V767.8h-1z M1012,710.0h1V767.8h-1z M1035,692.0h1V767.8h-1z M1041,651.0h1V767.8h-1z M1058,680.0h1V767.8h-1z M1075,577.0h1V767.8h-1z M1110,578.0h1V767.8h-1z M1115,622.0h1V767.8h-1z M1121,651.0h1V767.8h-1z M1144,675.0h1V767.8h-1z M1155,611.0h1V767.8h-1z M1167,720.9h1V767.8h-1z M1195,707.7h1V767.8h-1z M1207,711.0h1V767.8h-1z M1218,562.2h1V767.8h-1z M1247,711.0h1V767.8h-1z M1253,681.0h1V767.8h-1z M1270,699.9h1V767.8h-1z M1276,716.0h1V767.8h-1z M1281,717.3h1V767.8h-1z M1287,708.9h1V767.8h-1z M1293,699.9h1V767.8h-1z M1316,717.3h1V767.8h-1z M1321,725.0h1V767.8h-1z M1367,734.9h1V767.8h-1z M1384,741.8h1V767.8h-1z M1396,722.1h1V767.8h-1z M1402,733.1h1V767.8h-1z M1413,716.0h1V767.8h-1z M1419,735.0h1V767.8h-1z M1424,711.1h1V767.8h-1z M1430,730.3h1V767.8h-1z M1436,730.3h1V767.8h-1z M1453,730.3h1V767.8h-1z M1465,731.1h1V767.8h-1z M1470,695.0h1V767.8h-1z M1482,723.1h1V767.8h-1z M1493,722.1h1V767.8h-1z M1499,728.3h1V767.8h-1z M1505,741.1h1V767.8h-1z M1550,752.1h1V767.8h-1z M1556,741.1h1V767.8h-1z M1579,751.1h1V767.8h-1z M1596,741.1h1V767.8h-1z M1602,746.0h1V767.8h-1z" fill="#1c3a92"/>
<path d="M7,718.9h3V767.8h-3z M13,726.9h3V767.8h-3z M36,730.0h3V767.8h-3z M41,742.1h3V767.8h-3z M70,687.1h3V767.8h-3z M81,703.1h3V767.8h-3z M87,722.9h3V767.8h-3z M93,705.0h3V767.8h-3z M116,730.0h3V767.8h-3z M162,700.3h3V767.8h-3z M167,701.1h3V767.8h-3z M173,686.0h3V767.8h-3z M184,717.1h3V767.8h-3z M190,677.1h3V767.8h-3z M219,642.1h3V767.8h-3z M230,688.9h3V767.8h-3z M247,684.0h3V767.8h-3z M259,726.0h3V767.8h-3z M276,688.3h3V767.8h-3z M299,689.3h3V767.8h-3z M305,708.9h3V767.8h-3z M310,706.9h3V767.8h-3z M316,716.0h3V767.8h-3z M351,671.1h3V767.8h-3z M362,669.3h3V767.8h-3z M368,658.3h3V767.8h-3z M385,672.1h3V767.8h-3z M391,710.0h3V767.8h-3z M402,718.3h3V767.8h-3z M408,703.1h3V767.8h-3z M414,634.0h3V767.8h-3z M425,706.0h3V767.8h-3z M431,692.1h3V767.8h-3z M454,672.1h3V767.8h-3z M459,722.1h3V767.8h-3z M471,703.1h3V767.8h-3z M477,722.1h3V767.8h-3z M482,685.4h3V767.8h-3z M488,704.3h3V767.8h-3z M499,722.1h3V767.8h-3z M505,688.3h3V767.8h-3z M517,709.3h3V767.8h-3z M522,623.1h3V767.8h-3z M528,659.3h3V767.8h-3z M557,686.0h3V767.8h-3z M568,711.1h3V767.8h-3z M574,671.1h3V767.8h-3z M580,637.1h3V767.8h-3z M591,678.9h3V767.8h-3z M603,723.1h3V767.8h-3z M614,683.1h3V767.8h-3z M620,686.0h3V767.8h-3z M625,718.9h3V767.8h-3z M637,733.1h3V767.8h-3z M648,748.3h3V767.8h-3z M654,735.0h3V767.8h-3z M666,747.1h3V767.8h-3z M688,714.0h3V767.8h-3z M694,687.1h3V767.8h-3z M700,704.3h3V767.8h-3z M711,716.0h3V767.8h-3z M717,700.3h3V767.8h-3z M729,702.1h3V767.8h-3z M734,664.3h3V767.8h-3z M751,714.3h3V767.8h-3z M757,705.0h3V767.8h-3z M774,701.1h3V767.8h-3z M786,689.3h3V767.8h-3z M792,703.1h3V767.8h-3z M797,670.3h3V767.8h-3z M803,676.4h3V767.8h-3z M820,696.4h3V767.8h-3z M826,709.3h3V767.8h-3z M832,710.3h3V767.8h-3z M837,724.3h3V767.8h-3z M860,712.1h3V767.8h-3z M872,717.1h3V767.8h-3z M895,709.3h3V767.8h-3z M918,716.0h3V767.8h-3z M929,715.0h3V767.8h-3z M935,733.0h3V767.8h-3z M946,725.0h3V767.8h-3z M952,659.0h3V767.8h-3z M958,672.0h3V767.8h-3z M969,723.0h3V767.8h-3z M992,722.0h3V767.8h-3z M998,699.0h3V767.8h-3z M1003,718.0h3V767.8h-3z M1015,716.0h3V767.8h-3z M1021,691.0h3V767.8h-3z M1026,645.0h3V767.8h-3z M1044,713.0h3V767.8h-3z M1049,704.0h3V767.8h-3z M1061,698.0h3V767.8h-3z M1066,665.0h3V767.8h-3z M1078,687.0h3V767.8h-3z M1084,637.0h3V767.8h-3z M1089,645.0h3V767.8h-3z M1095,689.0h3V767.8h-3z M1101,595.0h3V767.8h-3z M1124,714.0h3V767.8h-3z M1129,675.0h3V767.8h-3z M1135,661.0h3V767.8h-3z M1147,687.0h3V767.8h-3z M1158,690.9h3V767.8h-3z M1170,732.0h3V767.8h-3z M1175,720.9h3V767.8h-3z M1181,706.2h3V767.8h-3z M1187,719.8h3V767.8h-3z M1198,729.2h3V767.8h-3z M1210,715.2h3V767.8h-3z M1221,685.2h3V767.8h-3z M1227,695.1h3V767.8h-3z M1233,726.1h3V767.8h-3z M1238,711.8h3V767.8h-3z M1255,705.1h3V767.8h-3z M1261,692.1h3V767.8h-3z M1296,699.3h3V767.8h-3z M1301,718.8h3V767.8h-3z M1307,729.9h3V767.8h-3z M1324,734.9h3V767.8h-3z M1330,725.0h3V767.8h-3z M1336,723.0h3V767.8h-3z M1341,726.1h3V767.8h-3z M1347,732.0h3V767.8h-3z M1353,729.9h3V767.8h-3z M1358,725.0h3V767.8h-3z M1370,747.1h3V767.8h-3z M1376,753.8h3V767.8h-3z M1387,743.1h3V767.8h-3z M1404,747.1h3V767.8h-3z M1439,723.1h3V767.8h-3z M1444,740.0h3V767.8h-3z M1456,734.3h3V767.8h-3z M1473,720.0h3V767.8h-3z M1484,737.1h3V767.8h-3z M1507,731.1h3V767.8h-3z M1513,739.3h3V767.8h-3z M1519,751.1h3V767.8h-3z M1525,738.3h3V767.8h-3z M1530,747.1h3V767.8h-3z M1536,740.0h3V767.8h-3z M1542,745.0h3V767.8h-3z M1559,748.3h3V767.8h-3z M1565,748.9h3V767.8h-3z M1570,739.3h3V767.8h-3z M1582,728.3h3V767.8h-3z M1588,738.3h3V767.8h-3z" fill="#dc6230"/>
<path d="M10,718.9h1V767.8h-1z M16,726.9h1V767.8h-1z M39,730.0h1V767.8h-1z M44,742.1h1V767.8h-1z M73,687.1h1V767.8h-1z M84,703.1h1V767.8h-1z M90,722.9h1V767.8h-1z M96,705.0h1V767.8h-1z M119,730.0h1V767.8h-1z M165,700.3h1V767.8h-1z M170,701.1h1V767.8h-1z M176,686.0h1V767.8h-1z M187,717.1h1V767.8h-1z M193,677.1h1V767.8h-1z M222,642.1h1V767.8h-1z M233,688.9h1V767.8h-1z M250,684.0h1V767.8h-1z M262,726.0h1V767.8h-1z M279,688.3h1V767.8h-1z M302,689.3h1V767.8h-1z M308,708.9h1V767.8h-1z M313,706.9h1V767.8h-1z M319,716.0h1V767.8h-1z M354,671.1h1V767.8h-1z M365,669.3h1V767.8h-1z M371,658.3h1V767.8h-1z M388,672.1h1V767.8h-1z M394,710.0h1V767.8h-1z M405,718.3h1V767.8h-1z M411,703.1h1V767.8h-1z M417,634.0h1V767.8h-1z M428,706.0h1V767.8h-1z M434,692.1h1V767.8h-1z M457,672.1h1V767.8h-1z M462,722.1h1V767.8h-1z M474,703.1h1V767.8h-1z M480,722.1h1V767.8h-1z M485,685.4h1V767.8h-1z M491,704.3h1V767.8h-1z M502,722.1h1V767.8h-1z M508,688.3h1V767.8h-1z M520,709.3h1V767.8h-1z M525,623.1h1V767.8h-1z M531,659.3h1V767.8h-1z M560,686.0h1V767.8h-1z M571,711.1h1V767.8h-1z M577,671.1h1V767.8h-1z M583,637.1h1V767.8h-1z M594,678.9h1V767.8h-1z M606,723.1h1V767.8h-1z M617,683.1h1V767.8h-1z M623,686.0h1V767.8h-1z M628,718.9h1V767.8h-1z M640,733.1h1V767.8h-1z M651,748.3h1V767.8h-1z M657,735.0h1V767.8h-1z M669,747.1h1V767.8h-1z M691,714.0h1V767.8h-1z M697,687.1h1V767.8h-1z M703,704.3h1V767.8h-1z M714,716.0h1V767.8h-1z M720,700.3h1V767.8h-1z M732,702.1h1V767.8h-1z M737,664.3h1V767.8h-1z M754,714.3h1V767.8h-1z M760,705.0h1V767.8h-1z M777,701.1h1V767.8h-1z M789,689.3h1V767.8h-1z M795,703.1h1V767.8h-1z M800,670.3h1V767.8h-1z M806,676.4h1V767.8h-1z M823,696.4h1V767.8h-1z M829,709.3h1V767.8h-1z M835,710.3h1V767.8h-1z M840,724.3h1V767.8h-1z M863,712.1h1V767.8h-1z M875,717.1h1V767.8h-1z M898,709.3h1V767.8h-1z M921,716.0h1V767.8h-1z M932,715.0h1V767.8h-1z M938,733.0h1V767.8h-1z M949,725.0h1V767.8h-1z M955,659.0h1V767.8h-1z M961,672.0h1V767.8h-1z M972,723.0h1V767.8h-1z M995,722.0h1V767.8h-1z M1001,699.0h1V767.8h-1z M1006,718.0h1V767.8h-1z M1018,716.0h1V767.8h-1z M1024,691.0h1V767.8h-1z M1029,645.0h1V767.8h-1z M1047,713.0h1V767.8h-1z M1052,704.0h1V767.8h-1z M1064,698.0h1V767.8h-1z M1069,665.0h1V767.8h-1z M1081,687.0h1V767.8h-1z M1087,637.0h1V767.8h-1z M1092,645.0h1V767.8h-1z M1098,689.0h1V767.8h-1z M1104,595.0h1V767.8h-1z M1127,714.0h1V767.8h-1z M1132,675.0h1V767.8h-1z M1138,661.0h1V767.8h-1z M1150,687.0h1V767.8h-1z M1161,690.9h1V767.8h-1z M1173,732.0h1V767.8h-1z M1178,720.9h1V767.8h-1z M1184,706.2h1V767.8h-1z M1190,719.8h1V767.8h-1z M1201,729.2h1V767.8h-1z M1213,715.2h1V767.8h-1z M1224,685.2h1V767.8h-1z M1230,695.1h1V767.8h-1z M1236,726.1h1V767.8h-1z M1241,711.8h1V767.8h-1z M1258,705.1h1V767.8h-1z M1264,692.1h1V767.8h-1z M1299,699.3h1V767.8h-1z M1304,718.8h1V767.8h-1z M1310,729.9h1V767.8h-1z M1327,734.9h1V767.8h-1z M1333,725.0h1V767.8h-1z M1339,723.0h1V767.8h-1z M1344,726.1h1V767.8h-1z M1350,732.0h1V767.8h-1z M1356,729.9h1V767.8h-1z M1361,725.0h1V767.8h-1z M1373,747.1h1V767.8h-1z M1379,753.8h1V767.8h-1z M1390,743.1h1V767.8h-1z M1407,747.1h1V767.8h-1z M1442,723.1h1V767.8h-1z M1447,740.0h1V767.8h-1z M1459,734.3h1V767.8h-1z M1476,720.0h1V767.8h-1z M1487,737.1h1V767.8h-1z M1510,731.1h1V767.8h-1z M1516,739.3h1V767.8h-1z M1522,751.1h1V767.8h-1z M1528,738.3h1V767.8h-1z M1533,747.1h1V767.8h-1z M1539,740.0h1V767.8h-1z M1545,745.0h1V767.8h-1z M1562,748.3h1V767.8h-1z M1568,748.9h1V767.8h-1z M1573,739.3h1V767.8h-1z M1585,728.3h1V767.8h-1z M1591,738.3h1V767.8h-1z" fill="#a83c1a"/>
<line x1="364.3" y1="64.3" x2="1618.3" y2="498.3" stroke="#8c2a2a" stroke-width="1"/>
<line x1="1269" y1="510.7" x2="1613.3" y2="470" stroke="#dd1a1a" stroke-width="3.2"/>
<line x1="1177" y1="391.1" x2="1201" y2="396.4" stroke="#b84040" stroke-width="1.2"/>
<line x1="2.5" y1="886.5" x2="1626.5" y2="886.5" stroke="#d0782a" stroke-width="1.2"/>
<polyline points="2.5,899.2 8.3,895.0 16.7,890.0 25.0,883.3 33.3,876.7 41.7,871.7 51.7,866.7 60.0,860.0 70.0,852.5 80.0,846.3 86.7,844.2 93.3,844.7 101.7,849.2 113.3,853.3 123.3,857.0 133.3,859.2 141.7,857.0 151.7,852.5 160.0,845.8 170.0,837.5 180.0,833.3 186.7,832.5 195.0,834.2 205.0,838.0 216.7,839.2 226.7,840.0 238.3,842.0 250.0,842.5 261.7,844.2 270.0,842.5 280.0,840.8 283.3,840.0 296.7,835.8 308.3,833.0 321.7,834.2 336.7,833.0 346.7,827.5 358.3,817.5 370.0,809.2 380.0,803.3 390.0,800.8 400.0,801.3 408.3,806.7 416.7,815.8 426.7,830.0 436.7,846.7 448.3,860.0 461.7,872.5 474.2,882.1 486.7,895.4 495.0,904.2 500.0,910.8 511.7,924.2 523.3,937.5 533.3,950.8 543.3,965.8 550.0,970.0 558.3,971.7 573.3,971.3 583.3,978.3 596.7,985.8 606.7,988.7 620.0,988.0 631.7,986.7 643.3,980.0 656.7,970.8 670.0,960.0 681.7,949.2 691.7,936.7 703.3,929.2 713.3,925.3 723.3,927.0 736.7,935.8 740.0,936.7 750.0,941.7 756.7,945.0 773.3,950.3 786.7,950.3 800.0,953.3 813.3,960.8 823.3,963.3 840.0,963.3 850.0,962.5 863.3,955.0 876.7,949.2 890.0,940.0 903.3,925.0 916.7,908.3 930.0,890.0 943.3,875.0 955.0,866.7 961.7,865.0 976.7,866.7 990.0,866.7 998.3,865.0 1010.8,865.6 1016.7,865.8 1020.0,865.8 1023.3,869.2 1033.3,876.7 1043.3,882.0 1053.3,886.3 1065.0,891.7 1076.7,897.5 1086.7,905.0 1096.7,914.2 1106.7,926.7 1116.7,935.8 1126.7,940.8 1136.7,946.7 1146.7,954.7 1156.7,960.0 1170.0,961.3 1183.3,961.7 1196.7,964.2 1210.0,967.5 1221.7,970.0 1233.3,970.8 1246.7,969.2 1256.7,970.0 1266.7,972.5 1276.7,973.7 1290.0,972.0 1293.3,969.2 1306.7,960.0 1318.3,951.7 1330.0,940.0 1343.3,931.7 1356.7,930.8 1366.7,930.0 1378.3,929.7 1390.0,925.0 1399.3,921.6 1403.3,917.5 1409.8,914.2 1416.7,907.5 1421.7,905.2 1428.3,896.7 1432.1,895.6 1442.1,887.0 1453.1,879.6 1466.3,871.8 1478.2,863.6 1490.1,856.1 1502.0,846.5 1513.9,840.5 1522.9,838.0 1530.3,839.0 1540.7,844.2 1555.6,853.2 1567.5,859.9 1579.4,869.5 1591.3,879.9 1598.8,887.4 1601.7,889.6" stroke="#d09048" stroke-width="1" fill="none"/>
<polyline points="2.5,890.0 6.7,885.0 11.7,880.8 16.7,875.8 23.3,869.2 27.5,864.2 32.5,859.2 38.3,859.2 43.3,860.3 48.3,856.7 55.0,851.7 60.0,844.2 65.8,836.7 71.7,835.0 77.5,834.5 81.7,835.0 86.7,838.0 91.7,842.5 95.8,850.0 100.8,856.7 106.7,859.2 113.3,860.8 120.0,864.7 126.7,865.5 131.7,864.2 136.7,860.0 140.8,853.3 146.7,846.7 153.3,838.3 160.0,829.2 165.0,823.3 169.2,820.5 175.0,824.2 180.8,825.8 185.8,828.3 190.8,835.8 198.3,843.3 205.0,843.3 212.5,841.3 220.0,840.8 226.7,840.8 232.5,846.3 238.3,845.0 245.0,843.0 255.0,842.5 261.7,845.0 269.2,842.7 275.8,837.8 280.0,837.0 285.0,835.8 295.0,828.7 300.0,827.5 307.5,827.5 318.3,838.3 328.3,833.7 340.0,823.3 346.7,814.2 353.3,809.2 360.0,798.3 365.0,792.5 371.7,793.3 380.0,790.8 388.3,794.2 396.7,801.7 403.3,810.0 410.0,823.3 415.0,837.5 420.0,848.3 426.7,860.0 433.3,875.0 440.0,884.2 446.7,886.3 455.0,887.0 463.3,892.5 470.8,897.1 477.5,904.2 480.0,908.3 488.3,923.3 495.0,929.2 501.7,936.7 508.3,948.3 518.3,955.8 525.0,966.7 531.7,981.7 541.7,995.8 553.3,976.7 560.0,973.3 565.0,969.7 570.8,970.3 576.7,981.7 582.5,994.2 586.7,994.7 593.3,997.5 603.3,995.0 611.7,989.2 621.7,985.3 627.5,987.5 636.7,976.7 651.7,961.7 667.5,950.8 678.3,930.0 690.0,908.3 703.3,915.0 708.3,916.3 716.7,925.0 725.0,932.5 736.7,950.8 740.0,953.3 743.3,953.3 749.2,951.3 755.0,953.3 765.0,960.0 775.0,953.3 786.7,948.3 793.3,950.8 801.7,964.2 805.0,972.0 811.0,972.0 822.5,964.5 837.5,966.2 843.3,964.2 856.7,949.2 868.3,940.8 875.0,941.3 883.3,933.3 893.3,916.7 903.3,901.7 911.7,885.0 921.7,871.7 931.7,858.3 940.0,854.2 948.3,850.3 955.0,853.0 961.7,860.0 968.3,864.7 973.3,869.2 981.7,871.3 990.0,864.2 996.7,861.3 1006.7,864.7 1010.0,865.0 1015.8,867.9 1020.8,874.2 1027.5,887.5 1035.0,893.3 1040.0,891.3 1046.7,893.0 1053.3,896.3 1060.0,895.3 1065.0,898.3 1070.0,903.7 1078.3,907.5 1083.3,911.7 1091.7,923.3 1098.3,935.0 1103.3,948.3 1109.2,961.3 1115.0,959.2 1126.7,949.5 1133.3,958.3 1141.7,967.5 1148.8,977.0 1156.7,966.7 1163.3,965.0 1170.8,959.7 1178.3,962.5 1186.7,965.8 1195.0,968.0 1203.3,970.3 1211.7,974.2 1220.0,973.3 1228.3,970.8 1243.3,970.0 1252.5,965.3 1258.3,968.3 1270.0,979.2 1280.0,974.2 1285.8,968.3 1290.0,964.2 1293.3,958.3 1303.3,947.5 1310.0,942.5 1318.3,931.7 1323.3,924.2 1330.8,918.3 1340.0,922.5 1350.0,926.7 1361.7,930.8 1370.0,929.7 1378.3,928.3 1383.9,921.7 1391.0,915.8 1399.7,908.6 1409.0,899.6 1416.9,891.3 1424.8,881.9 1430.6,874.7 1436.5,870.3 1445.5,869.2 1452.9,866.2 1458.9,866.2 1464.8,862.8 1470.8,854.6 1476.7,850.2 1482.7,845.0 1487.9,844.2 1493.1,838.3 1499.0,832.3 1505.0,826.7 1509.5,826.4 1516.9,829.3 1522.9,833.8 1528.8,840.5 1536.2,850.9 1543.7,860.6 1551.1,866.2 1557.1,866.5 1567.5,871.8 1573.5,879.2 1579.4,884.4 1585.4,894.1 1591.3,901.5 1597.3,906.7 1601.7,908.5" stroke="#1c6040" stroke-width="1.1" fill="none"/>
</g>
</svg>
<svg width="1680" height="1050" style="top:0;left:0" font-family="Liberation Sans">
<text x="1629.5" y="76.4" font-size="9.5" fill="#3c3c3c" font-weight="normal" text-anchor="start" textLength="26.5" lengthAdjust="spacingAndGlyphs" >2.900</text>
<text x="1629.5" y="105.2" font-size="9.5" fill="#3c3c3c" font-weight="normal" text-anchor="start" textLength="26.5" lengthAdjust="spacingAndGlyphs" >2.800</text>
<text x="1629.5" y="134.0" font-size="9.5" fill="#3c3c3c" font-weight="normal" text-anchor="start" textLength="26.5" lengthAdjust="spacingAndGlyphs" >2.700</text>
<text x="1629.5" y="162.8" font-size="9.5" fill="#3c3c3c" font-weight="normal" text-anchor="start" textLength="26.5" lengthAdjust="spacingAndGlyphs" >2.600</text>
<text x="1629.5" y="191.60000000000002" font-size="9.5" fill="#3c3c3c" font-weight="normal" text-anchor="start" textLength="26.5" lengthAdjust="spacingAndGlyphs" >2.500</text>
<text x="1629.5" y="220.4" font-size="9.5" fill="#3c3c3c" font-weight="normal" text-anchor="start" textLength="26.5" lengthAdjust="spacingAndGlyphs" >2.400</text>
<text x="1629.5" y="249.20000000000002" font-size="9.5" fill="#3c3c3c" font-weight="normal" text-anchor="start" textLength="26.5" lengthAdjust="spacingAndGlyphs" >2.300</text>
<text x="1629.5" y="278.0" font-size="9.5" fill="#3c3c3c" font-weight="normal" text-anchor="start" textLength="26.5" lengthAdjust="spacingAndGlyphs" >2.200</text>
<text x="1629.5" y="306.8" font-size="9.5" fill="#3c3c3c" font-weight="normal" text-anchor="start" textLength="26.5" lengthAdjust="spacingAndGlyphs" >2.100</text>
<text x="1629.5" y="335.6" font-size="9.5" fill="#3c3c3c" font-weight="normal" text-anchor="start" textLength="26.5" lengthAdjust="spacingAndGlyphs" >2.000</text>
<text x="1629.5" y="364.4" font-size="9.5" fill="#3c3c3c" font-weight="normal" text-anchor="start" textLength="26.5" lengthAdjust="spacingAndGlyphs" >1.900</text>
<text x="1629.5" y="393.20000000000005" font-size="9.5" fill="#3c3c3c" font-weight="normal" text-anchor="start" textLength="26.5" lengthAdjust="spacingAndGlyphs" >1.800</text>
<text x="1629.5" y="422.0" font-size="9.5" fill="#3c3c3c" font-weight="normal" text-anchor="start" textLength="26.5" lengthAdjust="spacingAndGlyphs" >1.700</text>
<text x="1629.5" y="450.80000000000007" font-size="9.5" fill="#3c3c3c" font-weight="normal" text-anchor="start" textLength="26.5" lengthAdjust="spacingAndGlyphs" >1.600</text>
<text x="1629.5" y="479.6" font-size="9.5" fill="#3c3c3c" font-weight="normal" text-anchor="start" textLength="26.5" lengthAdjust="spacingAndGlyphs" >1.500</text>
<text x="1629.5" y="508.4" font-size="9.5" fill="#3c3c3c" font-weight="normal" text-anchor="start" textLength="26.5" lengthAdjust="spacingAndGlyphs" >1.400</text>
<text x="1629.5" y="587.2" font-size="9.5" fill="#3c3c3c" font-weight="normal" text-anchor="start" textLength="25" lengthAdjust="spacingAndGlyphs" >80 εκ</text>
<text x="1629.5" y="633.3" font-size="9.5" fill="#3c3c3c" font-weight="normal" text-anchor="start" textLength="25" lengthAdjust="spacingAndGlyphs" >60 εκ</text>
<text x="1629.5" y="679.5" font-size="9.5" fill="#3c3c3c" font-weight="normal" text-anchor="start" textLength="25" lengthAdjust="spacingAndGlyphs" >40 εκ</text>
<text x="1629.5" y="725.7" font-size="9.5" fill="#3c3c3c" font-weight="normal" text-anchor="start" textLength="25" lengthAdjust="spacingAndGlyphs" >20 εκ</text>
<text x="1629.5" y="836.0" font-size="9.5" fill="#3c3c3c" font-weight="normal" text-anchor="start" textLength="11.5" lengthAdjust="spacingAndGlyphs" >50</text>
<text x="1629.5" y="944.0" font-size="9.5" fill="#3c3c3c" font-weight="normal" text-anchor="start" textLength="14.5" lengthAdjust="spacingAndGlyphs" >-50</text>
<text x="1629.5" y="997.8" font-size="9.5" fill="#3c3c3c" font-weight="normal" text-anchor="start" textLength="20.5" lengthAdjust="spacingAndGlyphs" >-100</text>
<text x="61.0" y="534" font-size="9" fill="#333333" font-weight="normal" text-anchor="middle" >Αυγ</text>
<text x="181.2" y="534" font-size="9" fill="#333333" font-weight="normal" text-anchor="middle" >Σεπτ</text>
<text x="307.2" y="534" font-size="9" fill="#333333" font-weight="normal" text-anchor="middle" >Οκτ</text>
<text x="427.5" y="534" font-size="9" fill="#333333" font-weight="normal" text-anchor="middle" >Νοε</text>
<text x="547.8" y="534" font-size="9" fill="#333333" font-weight="normal" text-anchor="middle" >Δεκ</text>
<text x="668.0" y="534" font-size="9" fill="#333333" font-weight="normal" text-anchor="middle" >2010</text>
<text x="776.8" y="534" font-size="9" fill="#333333" font-weight="normal" text-anchor="middle" >Φεβ</text>
<text x="885.7" y="534" font-size="9" fill="#333333" font-weight="normal" text-anchor="middle" >Μαρ</text>
<text x="1011.7" y="534" font-size="9" fill="#333333" font-weight="normal" text-anchor="middle" >Απρ</text>
<text x="1126.2" y="534" font-size="9" fill="#333333" font-weight="normal" text-anchor="middle" >Μαι</text>
<text x="1240.7" y="534" font-size="9" fill="#333333" font-weight="normal" text-anchor="middle" >Ιουν</text>
<text x="1366.7" y="534" font-size="9" fill="#333333" font-weight="normal" text-anchor="middle" >Ιουλ</text>
<text x="1492.7" y="534" font-size="9" fill="#333333" font-weight="normal" text-anchor="middle" >Αυγ</text>
</svg>

<div class="a" style="left:3px;top:47px;width:136px;height:13.5px;background:#5c5c5c"></div>
<svg width="1680" height="1050" style="top:0;left:0" font-family="Liberation Sans">
 <text x="40" y="57.8" font-size="9" fill="#fff" textLength="59" lengthAdjust="spacingAndGlyphs">27 Αυγ 2010</text>
 <rect x="5" y="65" width="5" height="5" fill="#6a86a8"/>
 <text x="14.5" y="70.5" font-size="9" fill="#3a5578" textLength="120.5" lengthAdjust="spacingAndGlyphs">1.547,01 ΓΔ +5,29 0,34%</text>
 <text x="14.5" y="84.6" font-size="9" fill="#3a5578" textLength="81.5" lengthAdjust="spacingAndGlyphs">1.542,33 Ανοιγμα</text>
 <text x="14.5" y="98.6" font-size="9" fill="#3a5578" textLength="80.5" lengthAdjust="spacingAndGlyphs">1.568,41 Μέγιστο</text>
 <text x="14.5" y="112.5" font-size="9" fill="#3a5578" textLength="83.5" lengthAdjust="spacingAndGlyphs">1.538,89 Ελάχιστο</text>
 <text x="5" y="519.5" font-size="10.5" fill="#eeeee8" font-weight="bold" textLength="42" lengthAdjust="spacingAndGlyphs">©Trader™</text>
 <rect x="5" y="545.5" width="5" height="4.5" fill="#6a7ac8"/>
 <text x="14" y="551.2" font-size="9" fill="#45558a" textLength="73" lengthAdjust="spacingAndGlyphs">9,87 εκ Volume</text>
 <rect x="5" y="778.5" width="5" height="5" fill="#e89a3a"/>
 <text x="13.7" y="784" font-size="9" fill="#b88a40" textLength="85.5" lengthAdjust="spacingAndGlyphs">-1,7641 Trigger(9)</text>
 <rect x="5" y="792.5" width="5" height="5" fill="#1a7a3a"/>
 <text x="13.7" y="798" font-size="9" fill="#1f6a3a" textLength="118" lengthAdjust="spacingAndGlyphs">-20,1115 MACD(12,26,9)</text>
 <path d="M1626.5,462l3,-5h47.5v10.5h-47.5z" fill="#5a88d0"/>
 <text x="1631" y="466" font-size="9" fill="#fff" textLength="43" lengthAdjust="spacingAndGlyphs">1.547,01</text>
 <path d="M1626.5,746.5l3,-5h39.5v10h-39.5z" fill="#5072bc" stroke="#3a5aa0" stroke-width="0.6"/>
 <text x="1631" y="750.5" font-size="9" fill="#fff" textLength="36" lengthAdjust="spacingAndGlyphs">9,87 εκ</text>
 <path d="M1626,888.5l3,-5h42v10.5h-42z" fill="#e8922a"/>
 <text x="1631" y="892.5" font-size="9" fill="#fff" textLength="38" lengthAdjust="spacingAndGlyphs">-1,7641</text>
 <path d="M1626,908.5l3,-5h48v10.5h-48z" fill="#1a8a40"/>
 <text x="1631" y="912.5" font-size="9" fill="#fff" textLength="43.5" lengthAdjust="spacingAndGlyphs">-20,1115</text>
 <path d="M1670.5,543.5l5,5M1675.5,543.5l-5,5M1670.5,776.5l5,5M1675.5,776.5l-5,5" stroke="#b0b0b0" stroke-width="1.2"/>
</svg>


<div class="a" style="left:0;top:1004.5px;width:1680px;height:15.5px;background:#f6f6f4"></div>
<div class="a" style="left:0;top:1005px;width:15px;height:15px;background:linear-gradient(#f0f0f0,#dcdcdc);border-right:1px solid #c8c8c8"></div>
<div class="a" style="left:15px;top:1005px;width:241px;height:15px;background:linear-gradient(#f2f2f2,#e6e6ea)"></div>
<div class="a" style="left:256px;top:1005px;width:332px;height:15px;background:linear-gradient(#e8e8e8 0px,#e0e0e0 6px,#c8c8cc 15px)"></div>
<div class="a" style="left:588px;top:1005px;width:15px;height:15px;background:linear-gradient(#ececec,#d8d8d8);border-left:1px solid #c0c0c0"></div>
<div class="a" style="left:603px;top:1005px;width:409px;height:15px;background:linear-gradient(#f0f0f0,#e8e8ec)"></div>
<div class="a" style="left:1012px;top:1005px;width:601px;height:15px;background:linear-gradient(#ececec 0px,#e2e2e2 6px,#cfcfd2 15px);border-left:1px solid #b8b8b8"></div>
<div class="a" style="left:1613px;top:1005px;width:14.5px;height:15px;background:linear-gradient(#ececec,#d8d8d8);border-left:1px solid #c0c0c0"></div>
<div class="a" style="left:0;top:1004.5px;width:1627.5px;height:1px;background:#c8c8c8"></div>
<div class="a tb"></div>
<div class="a" style="left:0;top:1020px;width:96px;height:30px;border-radius:0 10px 10px 0;background:linear-gradient(#3a8a3a 0px,#5cb85c 2px,#46a846 6px,#38a038 18px,#2e8e2e 26px,#2a7a2a 30px);box-shadow:inset -3px 0 4px rgba(0,40,0,0.35)"></div>
<div class="a" style="left:1426px;top:1020px;width:254px;height:30px;background:linear-gradient(#1a78d8 0px,#22a0f8 2px,#1898f0 6px,#1290ec 24px,#0e80d8 30px);border-left:1px solid #0a50a0"></div>
<div class="a" style="left:106.0px;top:1023px;width:84px;height:25px;border-radius:3px;background:linear-gradient(#68a8ff 0px,#4a8df8 2px,#3c81f3 5px,#3a7cf0 20px,#3070e4 25px);box-shadow:inset -1px -1px 0 rgba(0,0,60,0.35), inset 1px 1px 0 rgba(255,255,255,0.25)"></div><div class="a" style="left:191.6px;top:1023px;width:84px;height:25px;border-radius:3px;background:linear-gradient(#68a8ff 0px,#4a8df8 2px,#3c81f3 5px,#3a7cf0 20px,#3070e4 25px);box-shadow:inset -1px -1px 0 rgba(0,0,60,0.35), inset 1px 1px 0 rgba(255,255,255,0.25)"></div><div class="a" style="left:277.2px;top:1023px;width:84px;height:25px;border-radius:3px;background:linear-gradient(#68a8ff 0px,#4a8df8 2px,#3c81f3 5px,#3a7cf0 20px,#3070e4 25px);box-shadow:inset -1px -1px 0 rgba(0,0,60,0.35), inset 1px 1px 0 rgba(255,255,255,0.25)"></div><div class="a" style="left:362.8px;top:1023px;width:84px;height:25px;border-radius:3px;background:linear-gradient(#68a8ff 0px,#4a8df8 2px,#3c81f3 5px,#3a7cf0 20px,#3070e4 25px);box-shadow:inset -1px -1px 0 rgba(0,0,60,0.35), inset 1px 1px 0 rgba(255,255,255,0.25)"></div><div class="a" style="left:448.4px;top:1023px;width:84px;height:25px;border-radius:3px;background:linear-gradient(#68a8ff 0px,#4a8df8 2px,#3c81f3 5px,#3a7cf0 20px,#3070e4 25px);box-shadow:inset -1px -1px 0 rgba(0,0,60,0.35), inset 1px 1px 0 rgba(255,255,255,0.25)"></div><div class="a" style="left:534.0px;top:1023px;width:84px;height:25px;border-radius:3px;background:linear-gradient(#68a8ff 0px,#4a8df8 2px,#3c81f3 5px,#3a7cf0 20px,#3070e4 25px);box-shadow:inset -1px -1px 0 rgba(0,0,60,0.35), inset 1px 1px 0 rgba(255,255,255,0.25)"></div><div class="a" style="left:619.6px;top:1023px;width:84px;height:25px;border-radius:3px;background:linear-gradient(#68a8ff 0px,#4a8df8 2px,#3c81f3 5px,#3a7cf0 20px,#3070e4 25px);box-shadow:inset -1px -1px 0 rgba(0,0,60,0.35), inset 1px 1px 0 rgba(255,255,255,0.25)"></div><div class="a" style="left:705.2px;top:1023px;width:84px;height:25px;border-radius:3px;background:linear-gradient(#68a8ff 0px,#4a8df8 2px,#3c81f3 5px,#3a7cf0 20px,#3070e4 25px);box-shadow:inset -1px -1px 0 rgba(0,0,60,0.35), inset 1px 1px 0 rgba(255,255,255,0.25)"></div><div class="a" style="left:790.8px;top:1023px;width:84px;height:25px;border-radius:3px;background:linear-gradient(#68a8ff 0px,#4a8df8 2px,#3c81f3 5px,#3a7cf0 20px,#3070e4 25px);box-shadow:inset -1px -1px 0 rgba(0,0,60,0.35), inset 1px 1px 0 rgba(255,255,255,0.25)"></div><div class="a" style="left:876.4px;top:1023px;width:84px;height:25px;border-radius:3px;background:linear-gradient(#68a8ff 0px,#4a8df8 2px,#3c81f3 5px,#3a7cf0 20px,#3070e4 25px);box-shadow:inset -1px -1px 0 rgba(0,0,60,0.35), inset 1px 1px 0 rgba(255,255,255,0.25)"></div><div class="a" style="left:962.0px;top:1023px;width:84px;height:25px;border-radius:3px;background:linear-gradient(#68a8ff 0px,#4a8df8 2px,#3c81f3 5px,#3a7cf0 20px,#3070e4 25px);box-shadow:inset -1px -1px 0 rgba(0,0,60,0.35), inset 1px 1px 0 rgba(255,255,255,0.25)"></div><div class="a" style="left:1047.6px;top:1023px;width:84px;height:25px;border-radius:3px;background:linear-gradient(#68a8ff 0px,#4a8df8 2px,#3c81f3 5px,#3a7cf0 20px,#3070e4 25px);box-shadow:inset -1px -1px 0 rgba(0,0,60,0.35), inset 1px 1px 0 rgba(255,255,255,0.25)"></div><div class="a" style="left:1133.2px;top:1023px;width:84px;height:25px;border-radius:3px;background:linear-gradient(#1c4cb4 0px,#1e52c0 3px,#2158c8 22px,#2a62d4 25px);box-shadow:inset -1px -1px 0 rgba(0,0,60,0.35), inset 1px 1px 0 rgba(255,255,255,0.25)"></div>
<svg width="1680" height="1050" style="top:0;left:0" font-family="Liberation Sans">
 <path d="M4,1012.5l4,-3.7v7.4z" fill="#333"/>
 <path d="M595,1009v7l4,-3.5z" fill="#333"/>
 <path d="M1619,1009v7l4,-3.5z" fill="#333"/>
 <circle cx="1637" cy="1012.3" r="6" fill="none" stroke="#909090"/><path d="M1634,1012.3h6" stroke="#555" stroke-width="1.3"/>
 <circle cx="1654.3" cy="1012.3" r="6" fill="none" stroke="#909090"/><path d="M1651.3,1012.3h6M1654.3,1009.3v6" stroke="#555" stroke-width="1.3"/>
 <path d="M1666.5,1009v7M1676.5,1009v7M1666.5,1012.5h10" stroke="#555" stroke-width="1.2"/>
 <g transform="translate(10,1026)">
  <path d="M3,2q4,-2 8,0l-1.5,6q-4,-1.5 -8,0z" fill="#f05a24"/>
  <path d="M12,2q4,2 8,0l-1.5,6q-4,1.5 -8,0z" fill="#7cc242"/>
  <path d="M1.3,9q4,-1.5 8,0l-1.5,6.5q-4,-1.5 -8,0z" fill="#3a8ae8"/>
  <path d="M10.3,9q4,1.5 8,0l-1.5,6.5q-4,1.5 -8,0z" fill="#fcc020"/>
 </g>
 <text x="35" y="1040.5" font-size="17" font-weight="bold" font-style="italic" fill="#fff" textLength="37" lengthAdjust="spacingAndGlyphs" style="text-shadow:1px 1px 1px #1a4a1a">start</text>
 <circle cx="124.0" cy="1035.5" r="7" fill="#e8ecf4" stroke="#707888"/><path d="M120.0,1033h2M125.0,1032h3M121.0,1037h3M126.0,1036h2M122.0,1040h4M119.0,1035h1" stroke="#586070" stroke-width="1.5"/><text x="135.0" y="1039.5" font-size="11.5" fill="#fff">Sarro...</text><rect x="201.6" y="1032" width="16" height="5" fill="#e8e8f0" stroke="#606070"/><rect x="204.6" y="1033" width="9" height="3" fill="#333"/><text x="220.6" y="1039.5" font-size="11.5" fill="#fff">Sarro...</text><rect x="288.2" y="1029" width="14" height="14" rx="2" fill="#3a70d0" stroke="#1a3a80"/><rect x="290.2" y="1033" width="10" height="7" fill="#f0f4fc"/><path d="M290.2,1033l5,4l5,-4" stroke="#3a70d0" fill="none"/><text x="306.2" y="1039.5" font-size="11.5" fill="#fff">Inbox...</text><rect x="375.79999999999995" y="1029" width="12" height="14" fill="#f4f4f8" stroke="#6a7aa8"/><rect x="372.79999999999995" y="1030" width="9" height="8" fill="#2a4aa8"/><text x="373.79999999999995" y="1037" font-size="8" fill="#fff" font-weight="bold">W</text><text x="391.8" y="1039.5" font-size="11.5" fill="#fff">daily ...</text><path d="M471.4,1038A5.5,5.5 0 1 1 471.9,1035.5H461.4" fill="none" stroke="#5ab4f8" stroke-width="2.6"/><path d="M457.4,1042q5,-15 17,-13" stroke="#f0c030" fill="none" stroke-width="1.5"/><text x="477.4" y="1039.5" font-size="11.5" fill="#fff">Σύγχ...</text><rect x="544.5" y="1030.5" width="14" height="9" fill="#fff" stroke="#1a1a1a"/><polyline points="546.0,1037 549.0,1034 552.0,1036 556.0,1032" stroke="#c02020" fill="none"/><text x="563.0" y="1039.5" font-size="11.5" fill="#fff">ETE [...</text><rect x="630.0999999999999" y="1030.5" width="14" height="9" fill="#fff" stroke="#1a1a1a"/><polyline points="631.5999999999999,1037 634.5999999999999,1034 637.5999999999999,1036 641.5999999999999,1032" stroke="#c02020" fill="none"/><text x="648.6" y="1039.5" font-size="11.5" fill="#fff">ΑΛΦΑ...</text><path d="M717.1999999999999,1042l8,-8" stroke="#c8ccd8" stroke-width="3"/><circle cx="726.1999999999999" cy="1032" r="3.5" fill="#e8ecf8" stroke="#8890a0"/><text x="734.2" y="1039.5" font-size="11.5" fill="#fff">ΑΛΦΑ...</text><rect x="801.8" y="1029" width="14" height="10" fill="#b8d0f0" stroke="#404858"/><rect x="804.8" y="1040" width="8" height="2" fill="#505868"/><text x="819.8" y="1039.5" font-size="11.5" fill="#fff">Αξιών...</text><path d="M888.4,1042l8,-8" stroke="#c8ccd8" stroke-width="3"/><circle cx="897.4" cy="1032" r="3.5" fill="#e8ecf8" stroke="#8890a0"/><text x="905.4" y="1039.5" font-size="11.5" fill="#fff">ETE10...</text><rect x="973.0" y="1029" width="14" height="10" fill="#b8d0f0" stroke="#404858"/><rect x="976.0" y="1040" width="8" height="2" fill="#505868"/><text x="991.0" y="1039.5" font-size="11.5" fill="#fff">Παρα...</text><rect x="1058.1" y="1030.5" width="14" height="9" fill="#fff" stroke="#1a1a1a"/><polyline points="1059.6,1037 1062.6,1034 1065.6,1036 1069.6,1032" stroke="#c02020" fill="none"/><text x="1076.6" y="1039.5" font-size="11.5" fill="#fff">FTAS...</text><rect x="1143.6999999999998" y="1030.5" width="14" height="9" fill="#fff" stroke="#1a1a1a"/><polyline points="1145.1999999999998,1037 1148.1999999999998,1034 1151.1999999999998,1036 1155.1999999999998,1032" stroke="#c02020" fill="none"/><text x="1162.2" y="1039.5" font-size="11.5" fill="#fff">ΓΔ [d...</text>
 <text x="1229" y="1039.5" font-size="11" fill="#fff">EL</text>
 <path d="M1253,1043l9,-9" stroke="#d0d4dc" stroke-width="2.5"/><circle cx="1263" cy="1032" r="3" fill="#dde" stroke="#555"/>
 <rect x="1271.5" y="1029.5" width="14" height="10" fill="#f0f0f0" stroke="#1a1a30"/><path d="M1274,1033h6M1274,1036h5" stroke="#333"/>
 <rect x="1293.5" y="1029.5" width="12" height="12" rx="2" fill="#fffff0" stroke="#222"/><text x="1296" y="1040" font-size="10" font-weight="bold" fill="#000">?</text>
 <rect x="1318.5" y="1027.5" width="6" height="4" fill="none" stroke="#fff"/><path d="M1319,1036h6l-3,3z" fill="#fff"/>
 <circle cx="1441" cy="1031" r="2.5" fill="#5ab0f0"/><path d="M1437,1040q4,-8 8,0z" fill="#3a9ae0"/><circle cx="1447" cy="1030" r="2.5" fill="#60c040"/><path d="M1443,1038q4,-8 8,0z" fill="#4ab030"/><circle cx="1449" cy="1040" r="3.5" fill="#e84040" stroke="#fff" stroke-width="0.8"/><path d="M1447.5,1038.5l3,3M1450.5,1038.5l-3,3" stroke="#fff" stroke-width="1"/><rect x="1454" y="1027.5" width="15" height="15" rx="1.5" fill="#e87820" stroke="#b85010" stroke-width="0.8"/><path d="M1458,1039h7M1457,1037q4,2 8,0M1461,1030q2,2 0,5" stroke="#fff" fill="none" stroke-width="1.2"/><path d="M1472,1032q7,-6 15,0v6l-7.5,4l-7.5,-4z" fill="#f0f0f0" stroke="#c02020" stroke-width="1.2"/><path d="M1473,1032l6.5,5l6.5,-5" stroke="#d02020" fill="none" stroke-width="1.5"/><path d="M1491,1029q6,-2 12,0v6q0,5 -6,8q-6,-3 -6,-8z" fill="#f4d020" stroke="#a08010" stroke-width="0.8"/><path d="M1497,1031.5v5.5M1497,1038.5v1.5" stroke="#222" stroke-width="1.5"/><rect x="1508.5" y="1027.5" width="15" height="15" fill="#fff8e8" stroke="#303030" stroke-width="0.8"/><rect x="1510" y="1029" width="12" height="4" fill="#2050b0"/><path d="M1510,1036h12M1510,1039h10" stroke="#e08030" stroke-width="1.2"/><path d="M1527,1035q7,-7 15,-3v6q-8,4 -15,-3z" fill="#70b830"/><circle cx="1535" cy="1035" r="2.5" fill="#e8f4d8"/><rect x="1545" y="1030" width="15" height="11" rx="3" fill="#6a64b8" stroke="#383070" stroke-width="0.8"/><rect x="1548" y="1032.5" width="9" height="4" fill="#d8d4f8"/><path d="M1552.5,1033v6" stroke="#fff" stroke-width="1.2"/><path d="M1562,1033h5l2,-3h8v12h-15z" fill="#f0a020" stroke="#a06010" stroke-width="0.8"/><path d="M1568.5,1029v8M1568.5,1039v1.5" stroke="#fff" stroke-width="1.5"/><ellipse cx="1587" cy="1034" rx="6" ry="6.5" fill="#8a9ab8" stroke="#505a70" stroke-width="0.8"/><circle cx="1586" cy="1033.5" r="2" fill="#d8e0f0"/><path d="M1590,1041q3,-2 5,-5" stroke="#c8d8f0" fill="none"/><rect x="1597.5" y="1027.5" width="16" height="15" rx="4" fill="#38a838" stroke="#1a6a1a" stroke-width="0.8"/><circle cx="1605.5" cy="1035" r="4.5" fill="#e8f8e0"/><circle cx="1605.5" cy="1035" r="2" fill="#38a838"/><text x="1617" y="1041" font-size="13" font-weight="bold" fill="#1030c0" textLength="14" lengthAdjust="spacingAndGlyphs">Rd</text><path d="M1630,1028v6" stroke="#222" stroke-width="1.2"/>
 <text x="1638" y="1039.5" font-size="11" fill="#fff" textLength="29" lengthAdjust="spacingAndGlyphs">05:25</text>
</svg>

</body></html>
